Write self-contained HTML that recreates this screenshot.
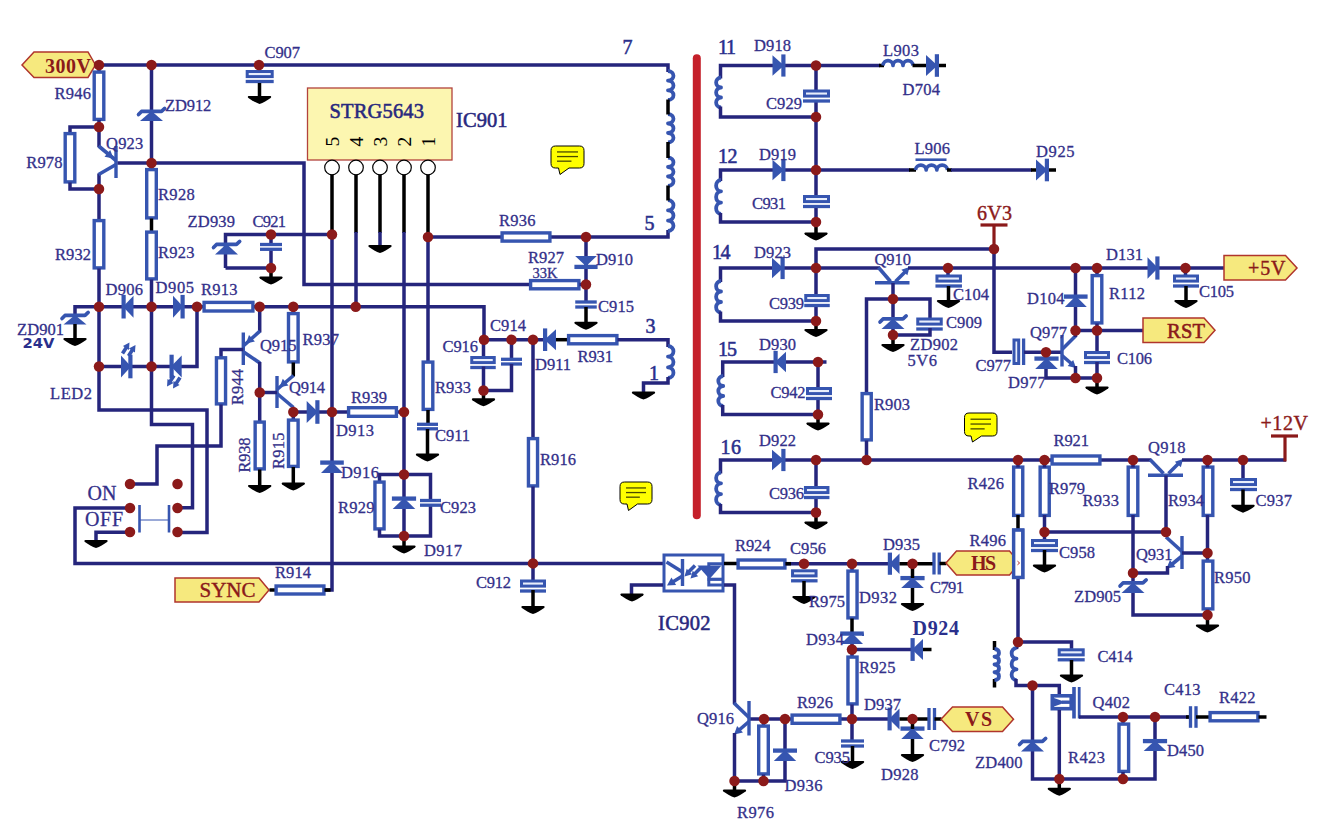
<!DOCTYPE html>
<html lang="en">
<head>
<meta charset="utf-8">
<title>Power supply schematic STRG5643</title>
<style>
html,body{margin:0;padding:0;background:#fff;}
body{width:1318px;height:827px;overflow:hidden;}
svg{display:block;}
text{white-space:pre;}
</style>
</head>
<body>
<svg width="1318" height="827" viewBox="0 0 1318 827">
<polygon points="22,65 34,52 88,52 95.5,65 88,77.5 34,77.5" fill="#f6e97e" stroke="#b0352c" stroke-width="1.5"/>
<path d="M99 65 L668 65 L668 72" stroke="#25257c" stroke-width="3.5" fill="none" stroke-linecap="butt" stroke-linejoin="miter"/>
<path d="M99 65 L99 72" stroke="#25257c" stroke-width="3.5" fill="none" stroke-linecap="butt" stroke-linejoin="miter"/>
<rect x="94.2" y="72.1" width="9.6" height="47.3" fill="#fff" stroke="#3655b0" stroke-width="3.4"/>
<path d="M99 120 L99 147" stroke="#25257c" stroke-width="3.5" fill="none" stroke-linecap="butt" stroke-linejoin="miter"/>
<path d="M99 173.5 L99 220" stroke="#25257c" stroke-width="3.5" fill="none" stroke-linecap="butt" stroke-linejoin="miter"/>
<rect x="94.2" y="220.6" width="9.6" height="47.3" fill="#fff" stroke="#3655b0" stroke-width="3.4"/>
<path d="M99 268.5 L99 410 L207 410 L207 532.5 L177.5 532.5" stroke="#25257c" stroke-width="3.5" fill="none" stroke-linecap="butt" stroke-linejoin="miter"/>
<path d="M99 127 L70 127 L70 133" stroke="#25257c" stroke-width="3.5" fill="none" stroke-linecap="butt" stroke-linejoin="miter"/>
<rect x="65.2" y="133.6" width="9.6" height="48.3" fill="#fff" stroke="#3655b0" stroke-width="3.4"/>
<path d="M70 182.5 L70 189 L99 189" stroke="#25257c" stroke-width="3.5" fill="none" stroke-linecap="butt" stroke-linejoin="miter"/>
<path d="M116 146 L116 178" stroke="#3655b0" stroke-width="3.4" fill="none" stroke-linecap="butt" stroke-linejoin="miter"/>
<path d="M98.6 146 L116 160.5" stroke="#3655b0" stroke-width="3.6" fill="none" stroke-linecap="butt" stroke-linejoin="miter"/>
<path d="M116 164.5 L98.6 174.5" stroke="#3655b0" stroke-width="3.6" fill="none" stroke-linecap="butt" stroke-linejoin="miter"/>
<polygon points="113.5,158.5 104.54,156.73 110.2,149.99" fill="#3655b0" stroke="none" stroke-width="0"/>
<path d="M151.5 65 L151.5 169" stroke="#25257c" stroke-width="3.5" fill="none" stroke-linecap="butt" stroke-linejoin="miter"/>
<polygon points="140,121 163,121 151.5,111" fill="#3655b0" stroke="none" stroke-width="0"/>
<path d="M138.5 114.6 l3 -3.2 L161.5 111.4 l3.2 -3" stroke="#3655b0" stroke-width="3.6" fill="none" stroke-linejoin="round" stroke-linecap="round"/>
<rect x="146.7" y="169.6" width="9.6" height="48.3" fill="#fff" stroke="#3655b0" stroke-width="3.4"/>
<path d="M151.5 218.5 L151.5 231.5" stroke="#000000" stroke-width="3.5" fill="none" stroke-linecap="butt" stroke-linejoin="miter"/>
<rect x="146.7" y="232.1" width="9.6" height="46.8" fill="#fff" stroke="#3655b0" stroke-width="3.4"/>
<path d="M151.5 279.5 L151.5 424.5 L192.5 424.5 L192.5 507.8 L177.5 507.8" stroke="#25257c" stroke-width="3.5" fill="none" stroke-linecap="butt" stroke-linejoin="miter"/>
<path d="M117.5 163 L304 163 L304 284.5 L530 284.5" stroke="#25257c" stroke-width="3.5" fill="none" stroke-linecap="butt" stroke-linejoin="miter"/>
<rect x="256.2" y="70.5" width="7" height="12" fill="#fff"/>
<rect x="247.2" y="71.5" width="25" height="5.1" fill="#e8eefc" stroke="#3655b0" stroke-width="3"/>
<path d="M245.7 81.5 L273.7 81.5" stroke="#3655b0" stroke-width="3.3" fill="none" stroke-linecap="butt" stroke-linejoin="miter"/>
<path d="M259.5 83 L259.5 97" stroke="#000000" stroke-width="3.5" fill="none" stroke-linecap="butt" stroke-linejoin="miter"/>
<path d="M249 96 h21 c1.2 0 1.6 1.2 0.6 2 c-3.4 2.6 -7.4 4.8 -11.1 6 c-3.7 -1.2 -7.7 -3.4 -11.1 -6 c-1 -0.8 -0.6 -2 0.6 -2z" fill="#000"/>
<path d="M99 306.7 L75 306.7 L75 316" stroke="#25257c" stroke-width="3.5" fill="none" stroke-linecap="butt" stroke-linejoin="miter"/>
<polygon points="63.5,324.5 86.5,324.5 75,315" fill="#3655b0" stroke="none" stroke-width="0"/>
<path d="M62 318.6 l3 -3.2 L85 315.4 l3.2 -3" stroke="#3655b0" stroke-width="3.6" fill="none" stroke-linejoin="round" stroke-linecap="round"/>
<path d="M75 324 L75 339" stroke="#000000" stroke-width="3.5" fill="none" stroke-linecap="butt" stroke-linejoin="miter"/>
<path d="M64.5 338 h21 c1.2 0 1.6 1.2 0.6 2 c-3.4 2.6 -7.4 4.8 -11.1 6 c-3.7 -1.2 -7.7 -3.4 -11.1 -6 c-1 -0.8 -0.6 -2 0.6 -2z" fill="#000"/>
<path d="M99 306.7 L484 306.7 L484 339.5" stroke="#25257c" stroke-width="3.5" fill="none" stroke-linecap="butt" stroke-linejoin="miter"/>
<polygon points="133.5,295.7 133.5,317.7 123,306.7" fill="#3655b0" stroke="none" stroke-width="0"/>
<path d="M123.6 294.9 L123.6 318.5" stroke="#3655b0" stroke-width="4.2" fill="none" stroke-linecap="butt" stroke-linejoin="miter"/>
<polygon points="173,295.7 173,317.7 183.2,306.7" fill="#3655b0" stroke="none" stroke-width="0"/>
<path d="M182.6 294.9 L182.6 318.5" stroke="#3655b0" stroke-width="4.2" fill="none" stroke-linecap="butt" stroke-linejoin="miter"/>
<rect x="204.1" y="302.4" width="48.8" height="8.6" fill="#fff" stroke="#3655b0" stroke-width="3.4"/>
<path d="M197 306.7 L197 366.5 L99 366.5" stroke="#25257c" stroke-width="3.5" fill="none" stroke-linecap="butt" stroke-linejoin="miter"/>
<polygon points="121,355.5 121,377.5 131,366.5" fill="#3655b0" stroke="none" stroke-width="0"/>
<path d="M130.4 354.7 L130.4 378.3" stroke="#3655b0" stroke-width="4.2" fill="none" stroke-linecap="butt" stroke-linejoin="miter"/>
<polygon points="181.7,355.5 181.7,377.5 171,366.5" fill="#3655b0" stroke="none" stroke-width="0"/>
<path d="M171.6 354.7 L171.6 378.3" stroke="#3655b0" stroke-width="4.2" fill="none" stroke-linecap="butt" stroke-linejoin="miter"/>
<path d="M122.5 353.5 L127 346.5" stroke="#3655b0" stroke-width="3.6" fill="none" stroke-linecap="butt" stroke-linejoin="miter"/>
<path d="M128.5 356 L133 349" stroke="#3655b0" stroke-width="3.6" fill="none" stroke-linecap="butt" stroke-linejoin="miter"/>
<polygon points="129.5,342.5 128.96,349.9 122.96,346" fill="#3655b0" stroke="none" stroke-width="0"/>
<polygon points="135.5,345 134.96,352.4 128.96,348.5" fill="#3655b0" stroke="none" stroke-width="0"/>
<path d="M180 377.5 L175.5 384.5" stroke="#3655b0" stroke-width="3.6" fill="none" stroke-linecap="butt" stroke-linejoin="miter"/>
<path d="M174 375.5 L169.5 382.5" stroke="#3655b0" stroke-width="3.6" fill="none" stroke-linecap="butt" stroke-linejoin="miter"/>
<polygon points="173,388.5 173.54,381.1 179.54,385" fill="#3655b0" stroke="none" stroke-width="0"/>
<polygon points="167,386.5 167.54,379.1 173.54,383" fill="#3655b0" stroke="none" stroke-width="0"/>
<path d="M225.5 268 L225.5 234.5 L332 234.5" stroke="#25257c" stroke-width="3.5" fill="none" stroke-linecap="butt" stroke-linejoin="miter"/>
<path d="M225.5 268 L271 268" stroke="#25257c" stroke-width="3.5" fill="none" stroke-linecap="butt" stroke-linejoin="miter"/>
<polygon points="215,254.5 238,254.5 226.5,244" fill="#3655b0" stroke="none" stroke-width="0"/>
<path d="M213.5 247.6 l3 -3.2 L236.5 244.4 l3.2 -3" stroke="#3655b0" stroke-width="3.6" fill="none" stroke-linejoin="round" stroke-linecap="round"/>
<path d="M271 234.5 L271 245" stroke="#25257c" stroke-width="3.5" fill="none" stroke-linecap="butt" stroke-linejoin="miter"/>
<path d="M271 249 L271 268" stroke="#25257c" stroke-width="3.5" fill="none" stroke-linecap="butt" stroke-linejoin="miter"/>
<rect x="267.5" y="244.5" width="7" height="4.8" fill="#fff"/>
<path d="M260 244.5 L282 244.5" stroke="#3655b0" stroke-width="3.3" fill="none" stroke-linecap="butt" stroke-linejoin="miter"/>
<path d="M260 249.3 L282 249.3" stroke="#3655b0" stroke-width="3.3" fill="none" stroke-linecap="butt" stroke-linejoin="miter"/>
<path d="M271 268 L271 277.5" stroke="#000000" stroke-width="3.5" fill="none" stroke-linecap="butt" stroke-linejoin="miter"/>
<path d="M260.5 276.5 h21 c1.2 0 1.6 1.2 0.6 2 c-3.4 2.6 -7.4 4.8 -11.1 6 c-3.7 -1.2 -7.7 -3.4 -11.1 -6 c-1 -0.8 -0.6 -2 0.6 -2z" fill="#000"/>
<path d="M259.7 306.7 L259.7 332.5" stroke="#25257c" stroke-width="3.5" fill="none" stroke-linecap="butt" stroke-linejoin="miter"/>
<path d="M243.3 332.5 L243.3 365" stroke="#3655b0" stroke-width="3.4" fill="none" stroke-linecap="butt" stroke-linejoin="miter"/>
<path d="M259.9 331.2 L243.3 346" stroke="#3655b0" stroke-width="3.6" fill="none" stroke-linecap="butt" stroke-linejoin="miter"/>
<path d="M243.3 351.7 L259.9 363" stroke="#3655b0" stroke-width="3.6" fill="none" stroke-linecap="butt" stroke-linejoin="miter"/>
<polygon points="246,343.6 249,334.98 254.89,341.52" fill="#3655b0" stroke="none" stroke-width="0"/>
<path d="M259.7 362 L259.7 421.5" stroke="#25257c" stroke-width="3.5" fill="none" stroke-linecap="butt" stroke-linejoin="miter"/>
<path d="M243.3 349.5 L221 349.5 L221 357" stroke="#25257c" stroke-width="3.5" fill="none" stroke-linecap="butt" stroke-linejoin="miter"/>
<rect x="216.45" y="357.8" width="9.1" height="46.1" fill="#fff" stroke="#3655b0" stroke-width="3.4"/>
<path d="M221 404.5 L221 446 L157 446 L157 484 L130 484" stroke="#25257c" stroke-width="3.5" fill="none" stroke-linecap="butt" stroke-linejoin="miter"/>
<path d="M293.3 306.7 L293.3 313" stroke="#25257c" stroke-width="3.5" fill="none" stroke-linecap="butt" stroke-linejoin="miter"/>
<rect x="288.5" y="313.6" width="9.6" height="48.3" fill="#fff" stroke="#3655b0" stroke-width="3.4"/>
<path d="M293.3 362.5 L293.3 376.5" stroke="#000000" stroke-width="3.5" fill="none" stroke-linecap="butt" stroke-linejoin="miter"/>
<path d="M277 376 L277 408" stroke="#3655b0" stroke-width="3.4" fill="none" stroke-linecap="butt" stroke-linejoin="miter"/>
<path d="M293.5 375.5 L277 389.5" stroke="#3655b0" stroke-width="3.6" fill="none" stroke-linecap="butt" stroke-linejoin="miter"/>
<path d="M277 393.5 L293.5 407.5" stroke="#3655b0" stroke-width="3.6" fill="none" stroke-linecap="butt" stroke-linejoin="miter"/>
<polygon points="279.5,387.3 282.8,378.79 288.46,385.53" fill="#3655b0" stroke="none" stroke-width="0"/>
<path d="M259.7 392.5 L277 392.5" stroke="#25257c" stroke-width="3.5" fill="none" stroke-linecap="butt" stroke-linejoin="miter"/>
<rect x="255.15" y="422.1" width="9.1" height="46.8" fill="#fff" stroke="#3655b0" stroke-width="3.4"/>
<path d="M259.7 469.5 L259.7 486" stroke="#000000" stroke-width="3.5" fill="none" stroke-linecap="butt" stroke-linejoin="miter"/>
<path d="M249.2 485 h21 c1.2 0 1.6 1.2 0.6 2 c-3.4 2.6 -7.4 4.8 -11.1 6 c-3.7 -1.2 -7.7 -3.4 -11.1 -6 c-1 -0.8 -0.6 -2 0.6 -2z" fill="#000"/>
<path d="M293.3 408 L293.3 419.5" stroke="#25257c" stroke-width="3.5" fill="none" stroke-linecap="butt" stroke-linejoin="miter"/>
<rect x="288.5" y="420.1" width="9.6" height="46.3" fill="#fff" stroke="#3655b0" stroke-width="3.4"/>
<path d="M293.3 467 L293.3 483.5" stroke="#000000" stroke-width="3.5" fill="none" stroke-linecap="butt" stroke-linejoin="miter"/>
<path d="M282.8 482.5 h21 c1.2 0 1.6 1.2 0.6 2 c-3.4 2.6 -7.4 4.8 -11.1 6 c-3.7 -1.2 -7.7 -3.4 -11.1 -6 c-1 -0.8 -0.6 -2 0.6 -2z" fill="#000"/>
<path d="M293.3 412 L404 412" stroke="#25257c" stroke-width="3.5" fill="none" stroke-linecap="butt" stroke-linejoin="miter"/>
<polygon points="306.7,401 306.7,423 318,412" fill="#3655b0" stroke="none" stroke-width="0"/>
<path d="M317.4 400.2 L317.4 423.8" stroke="#3655b0" stroke-width="4.2" fill="none" stroke-linecap="butt" stroke-linejoin="miter"/>
<rect x="348.6" y="407.7" width="47.8" height="8.6" fill="#fff" stroke="#3655b0" stroke-width="3.4"/>
<path d="M332 174 L332 233" stroke="#000000" stroke-width="3.5" fill="none" stroke-linecap="butt" stroke-linejoin="miter"/>
<path d="M356 174 L356 233" stroke="#000000" stroke-width="3.5" fill="none" stroke-linecap="butt" stroke-linejoin="miter"/>
<path d="M380 174 L380 233" stroke="#000000" stroke-width="3.5" fill="none" stroke-linecap="butt" stroke-linejoin="miter"/>
<path d="M404 174 L404 233" stroke="#000000" stroke-width="3.5" fill="none" stroke-linecap="butt" stroke-linejoin="miter"/>
<path d="M428 174 L428 233" stroke="#000000" stroke-width="3.5" fill="none" stroke-linecap="butt" stroke-linejoin="miter"/>
<path d="M332 232 L332 590 L325 590" stroke="#25257c" stroke-width="3.5" fill="none" stroke-linecap="butt" stroke-linejoin="miter"/>
<path d="M356 232 L356 306.7" stroke="#25257c" stroke-width="3.5" fill="none" stroke-linecap="butt" stroke-linejoin="miter"/>
<path d="M380 232 L380 247" stroke="#25257c" stroke-width="3.5" fill="none" stroke-linecap="butt" stroke-linejoin="miter"/>
<path d="M369.5 245 h21 c1.2 0 1.6 1.2 0.6 2 c-3.4 2.6 -7.4 4.8 -11.1 6 c-3.7 -1.2 -7.7 -3.4 -11.1 -6 c-1 -0.8 -0.6 -2 0.6 -2z" fill="#000"/>
<path d="M404 232 L404 536" stroke="#25257c" stroke-width="3.5" fill="none" stroke-linecap="butt" stroke-linejoin="miter"/>
<path d="M428 232 L428 361.5" stroke="#25257c" stroke-width="3.5" fill="none" stroke-linecap="butt" stroke-linejoin="miter"/>
<polygon points="321,473 343,473 332,462" fill="#3655b0" stroke="none" stroke-width="0"/>
<path d="M320.2 462.6 L343.8 462.6" stroke="#3655b0" stroke-width="4.3" fill="none" stroke-linecap="butt" stroke-linejoin="miter"/>
<path d="M379.5 481.5 L379.5 474.5 L430.5 474.5 L430.5 501" stroke="#25257c" stroke-width="3.5" fill="none" stroke-linecap="butt" stroke-linejoin="miter"/>
<rect x="374.95" y="482.1" width="9.1" height="46.8" fill="#fff" stroke="#3655b0" stroke-width="3.4"/>
<path d="M379.5 529.5 L379.5 536 L430.5 536 L430.5 505" stroke="#25257c" stroke-width="3.5" fill="none" stroke-linecap="butt" stroke-linejoin="miter"/>
<polygon points="392.7,509 415.3,509 404,498" fill="#3655b0" stroke="none" stroke-width="0"/>
<path d="M391.9 498.6 L416.1 498.6" stroke="#3655b0" stroke-width="4.3" fill="none" stroke-linecap="butt" stroke-linejoin="miter"/>
<rect x="427" y="500.5" width="7" height="4.7" fill="#fff"/>
<path d="M420 500.5 L441 500.5" stroke="#3655b0" stroke-width="3.3" fill="none" stroke-linecap="butt" stroke-linejoin="miter"/>
<path d="M420 505.2 L441 505.2" stroke="#3655b0" stroke-width="3.3" fill="none" stroke-linecap="butt" stroke-linejoin="miter"/>
<path d="M404 536 L404 546.5" stroke="#000000" stroke-width="3.5" fill="none" stroke-linecap="butt" stroke-linejoin="miter"/>
<path d="M393.5 545.5 h21 c1.2 0 1.6 1.2 0.6 2 c-3.4 2.6 -7.4 4.8 -11.1 6 c-3.7 -1.2 -7.7 -3.4 -11.1 -6 c-1 -0.8 -0.6 -2 0.6 -2z" fill="#000"/>
<rect x="423.2" y="362.1" width="9.6" height="47.3" fill="#fff" stroke="#3655b0" stroke-width="3.4"/>
<path d="M428 410 L428 424.5" stroke="#000000" stroke-width="3.5" fill="none" stroke-linecap="butt" stroke-linejoin="miter"/>
<rect x="424" y="424.3" width="7" height="4.5" fill="#fff"/>
<path d="M417 424.3 L438 424.3" stroke="#3655b0" stroke-width="3.3" fill="none" stroke-linecap="butt" stroke-linejoin="miter"/>
<path d="M417 428.8 L438 428.8" stroke="#3655b0" stroke-width="3.3" fill="none" stroke-linecap="butt" stroke-linejoin="miter"/>
<path d="M427.5 429 L427.5 454.5" stroke="#000000" stroke-width="3.5" fill="none" stroke-linecap="butt" stroke-linejoin="miter"/>
<path d="M417 453.5 h21 c1.2 0 1.6 1.2 0.6 2 c-3.4 2.6 -7.4 4.8 -11.1 6 c-3.7 -1.2 -7.7 -3.4 -11.1 -6 c-1 -0.8 -0.6 -2 0.6 -2z" fill="#000"/>
<path d="M428 237 L668 237 L668 230" stroke="#25257c" stroke-width="3.5" fill="none" stroke-linecap="butt" stroke-linejoin="miter"/>
<rect x="502.1" y="232.9" width="47.8" height="8.2" fill="#fff" stroke="#3655b0" stroke-width="3.4"/>
<path d="M586 237 L586 302" stroke="#25257c" stroke-width="3.5" fill="none" stroke-linecap="butt" stroke-linejoin="miter"/>
<polygon points="575.2,256 596.8,256 586,266.3" fill="#3655b0" stroke="none" stroke-width="0"/>
<path d="M574.4 266.9 L597.6 266.9" stroke="#3655b0" stroke-width="4.3" fill="none" stroke-linecap="butt" stroke-linejoin="miter"/>
<rect x="582.5" y="302" width="7" height="5" fill="#fff"/>
<path d="M575.25 302 L596.75 302" stroke="#3655b0" stroke-width="3.3" fill="none" stroke-linecap="butt" stroke-linejoin="miter"/>
<path d="M575.25 307 L596.75 307" stroke="#3655b0" stroke-width="3.3" fill="none" stroke-linecap="butt" stroke-linejoin="miter"/>
<path d="M586 307 L586 322.7" stroke="#000000" stroke-width="3.5" fill="none" stroke-linecap="butt" stroke-linejoin="miter"/>
<path d="M575.5 321.7 h21 c1.2 0 1.6 1.2 0.6 2 c-3.4 2.6 -7.4 4.8 -11.1 6 c-3.7 -1.2 -7.7 -3.4 -11.1 -6 c-1 -0.8 -0.6 -2 0.6 -2z" fill="#000"/>
<rect x="530.6" y="280.6" width="48.3" height="8.2" fill="#fff" stroke="#3655b0" stroke-width="3.4"/>
<path d="M579.5 284.5 L586 284.5" stroke="#25257c" stroke-width="3.5" fill="none" stroke-linecap="butt" stroke-linejoin="miter"/>
<path d="M484 339.7 L545 339.7" stroke="#25257c" stroke-width="3.5" fill="none" stroke-linecap="butt" stroke-linejoin="miter"/>
<polygon points="556,329.2 556,350.2 544.5,339.7" fill="#3655b0" stroke="none" stroke-width="0"/>
<path d="M545.1 328.4 L545.1 351" stroke="#3655b0" stroke-width="4.2" fill="none" stroke-linecap="butt" stroke-linejoin="miter"/>
<path d="M556 339.7 L568 339.7" stroke="#000000" stroke-width="3.5" fill="none" stroke-linecap="butt" stroke-linejoin="miter"/>
<rect x="568.6" y="335.6" width="48.3" height="8.2" fill="#fff" stroke="#3655b0" stroke-width="3.4"/>
<path d="M617.5 339.7 L668 339.7 L668 347" stroke="#25257c" stroke-width="3.5" fill="none" stroke-linecap="butt" stroke-linejoin="miter"/>
<path d="M483.5 339.7 L483.5 357" stroke="#25257c" stroke-width="3.5" fill="none" stroke-linecap="butt" stroke-linejoin="miter"/>
<rect x="479.5" y="356.5" width="7" height="12" fill="#fff"/>
<rect x="471.75" y="357.5" width="22.5" height="5.1" fill="#e8eefc" stroke="#3655b0" stroke-width="3"/>
<path d="M470.25 367.5 L495.75 367.5" stroke="#3655b0" stroke-width="3.3" fill="none" stroke-linecap="butt" stroke-linejoin="miter"/>
<path d="M483.5 366.5 L483.5 390.5" stroke="#25257c" stroke-width="3.5" fill="none" stroke-linecap="butt" stroke-linejoin="miter"/>
<path d="M483.5 390.5 L483.5 399.3" stroke="#000000" stroke-width="3.5" fill="none" stroke-linecap="butt" stroke-linejoin="miter"/>
<path d="M473 398.3 h21 c1.2 0 1.6 1.2 0.6 2 c-3.4 2.6 -7.4 4.8 -11.1 6 c-3.7 -1.2 -7.7 -3.4 -11.1 -6 c-1 -0.8 -0.6 -2 0.6 -2z" fill="#000"/>
<path d="M511.5 339.7 L511.5 359.5" stroke="#25257c" stroke-width="3.5" fill="none" stroke-linecap="butt" stroke-linejoin="miter"/>
<rect x="508" y="359.3" width="7" height="4.7" fill="#fff"/>
<path d="M501 359.3 L522 359.3" stroke="#3655b0" stroke-width="3.3" fill="none" stroke-linecap="butt" stroke-linejoin="miter"/>
<path d="M501 364 L522 364" stroke="#3655b0" stroke-width="3.3" fill="none" stroke-linecap="butt" stroke-linejoin="miter"/>
<path d="M511.5 364 L511.5 390.5 L483.5 390.5" stroke="#25257c" stroke-width="3.5" fill="none" stroke-linecap="butt" stroke-linejoin="miter"/>
<path d="M533 339.7 L533 438" stroke="#25257c" stroke-width="3.5" fill="none" stroke-linecap="butt" stroke-linejoin="miter"/>
<rect x="528.45" y="438.6" width="9.1" height="47.3" fill="#fff" stroke="#3655b0" stroke-width="3.4"/>
<path d="M533 486.5 L533 580" stroke="#25257c" stroke-width="3.5" fill="none" stroke-linecap="butt" stroke-linejoin="miter"/>
<rect x="529.5" y="580" width="7" height="12" fill="#fff"/>
<rect x="521.5" y="581" width="23" height="5.1" fill="#e8eefc" stroke="#3655b0" stroke-width="3"/>
<path d="M520 591 L546 591" stroke="#3655b0" stroke-width="3.3" fill="none" stroke-linecap="butt" stroke-linejoin="miter"/>
<path d="M533 590 L533 607" stroke="#000000" stroke-width="3.5" fill="none" stroke-linecap="butt" stroke-linejoin="miter"/>
<path d="M522.5 606 h21 c1.2 0 1.6 1.2 0.6 2 c-3.4 2.6 -7.4 4.8 -11.1 6 c-3.7 -1.2 -7.7 -3.4 -11.1 -6 c-1 -0.8 -0.6 -2 0.6 -2z" fill="#000"/>
<path d="M130 508 L75 508 L75 563.4 L663 563.4" stroke="#25257c" stroke-width="3.5" fill="none" stroke-linecap="butt" stroke-linejoin="miter"/>
<path d="M139.5 505 L139.5 532.5" stroke="#3655b0" stroke-width="2.6" fill="none" stroke-linecap="butt" stroke-linejoin="miter"/>
<path d="M169 505 L169 532.5" stroke="#3655b0" stroke-width="2.6" fill="none" stroke-linecap="butt" stroke-linejoin="miter"/>
<path d="M139.5 520 L169 520" stroke="#3655b0" stroke-width="1" fill="none" stroke-linecap="butt" stroke-linejoin="miter"/>
<path d="M130 532.3 L96 532.3 L96 543" stroke="#25257c" stroke-width="3.5" fill="none" stroke-linecap="butt" stroke-linejoin="miter"/>
<path d="M85.5 540 h21 c1.2 0 1.6 1.2 0.6 2 c-3.4 2.6 -7.4 4.8 -11.1 6 c-3.7 -1.2 -7.7 -3.4 -11.1 -6 c-1 -0.8 -0.6 -2 0.6 -2z" fill="#000"/>
<polygon points="175,578 259,578 269,590 259,602 175,602" fill="#f6e97e" stroke="#b0352c" stroke-width="1.5"/>
<path d="M269.5 590 L276 590" stroke="#000000" stroke-width="3.5" fill="none" stroke-linecap="butt" stroke-linejoin="miter"/>
<rect x="276.1" y="586" width="47.8" height="8" fill="#fff" stroke="#3655b0" stroke-width="3.4"/>
<path d="M324.5 590 L330.6 590" stroke="#000000" stroke-width="3.5" fill="none" stroke-linecap="butt" stroke-linejoin="miter"/>
<rect x="307.5" y="88" width="144.5" height="72" fill="#fcf6b0" stroke="#b2423c" stroke-width="1.3"/>
<circle cx="332" cy="167.5" r="7.3" fill="#fff" stroke="#000" stroke-width="1.2"/>
<circle cx="356" cy="167.5" r="7.3" fill="#fff" stroke="#000" stroke-width="1.2"/>
<circle cx="380" cy="167.5" r="7.3" fill="#fff" stroke="#000" stroke-width="1.2"/>
<circle cx="404" cy="167.5" r="7.3" fill="#fff" stroke="#000" stroke-width="1.2"/>
<circle cx="428" cy="167.5" r="7.3" fill="#fff" stroke="#000" stroke-width="1.2"/>
<path d="M668 71 C675.28 71.48 675.28 80.18 668 80.67 C675.28 81.15 675.28 89.85 668 90.33 C675.28 90.82 675.28 99.52 668 100" stroke="#3655b0" stroke-width="3.8" fill="none" stroke-linejoin="round"/>
<path d="M668 114 C675.28 114.47 675.28 123.03 668 123.5 C675.28 123.97 675.28 132.53 668 133 C675.28 133.47 675.28 142.03 668 142.5" stroke="#3655b0" stroke-width="3.8" fill="none" stroke-linejoin="round"/>
<path d="M668 157.5 C675.28 157.97 675.28 166.53 668 167 C675.28 167.47 675.28 176.03 668 176.5 C675.28 176.97 675.28 185.53 668 186" stroke="#3655b0" stroke-width="3.8" fill="none" stroke-linejoin="round"/>
<path d="M668 200 C675.28 200.52 675.28 209.82 668 210.33 C675.28 210.85 675.28 220.15 668 220.67 C675.28 221.18 675.28 230.48 668 231" stroke="#3655b0" stroke-width="3.8" fill="none" stroke-linejoin="round"/>
<path d="M668 99.5 L668 114.5" stroke="#000000" stroke-width="3.5" fill="none" stroke-linecap="butt" stroke-linejoin="miter"/>
<path d="M668 142 L668 158" stroke="#000000" stroke-width="3.5" fill="none" stroke-linecap="butt" stroke-linejoin="miter"/>
<path d="M668 185.5 L668 200.5" stroke="#000000" stroke-width="3.5" fill="none" stroke-linecap="butt" stroke-linejoin="miter"/>
<path d="M668 346 C675.28 346.53 675.28 356.13 668 356.67 C675.28 357.2 675.28 366.8 668 367.33 C675.28 367.87 675.28 377.47 668 378" stroke="#3655b0" stroke-width="3.8" fill="none" stroke-linejoin="round"/>
<path d="M668 377 L668 383 L643.5 383 L643.5 393" stroke="#25257c" stroke-width="3.5" fill="none" stroke-linecap="butt" stroke-linejoin="miter"/>
<path d="M633 391.5 h21 c1.2 0 1.6 1.2 0.6 2 c-3.4 2.6 -7.4 4.8 -11.1 6 c-3.7 -1.2 -7.7 -3.4 -11.1 -6 c-1 -0.8 -0.6 -2 0.6 -2z" fill="#000"/>
<path d="M696.8 58.2 V515.3" stroke="#c5202a" stroke-width="8" stroke-linecap="round"/>
<path d="M720.5 78.5 L720.5 65.5 L816 65.5" stroke="#25257c" stroke-width="3.5" fill="none" stroke-linecap="butt" stroke-linejoin="miter"/>
<path d="M721 77.5 C714.5 78 714.5 87 721 87.5 C714.5 88 714.5 97 721 97.5 C714.5 98 714.5 107 721 107.5" stroke="#3655b0" stroke-width="3.8" fill="none" stroke-linejoin="round"/>
<path d="M720.5 106.5 L720.5 117 L816 117" stroke="#25257c" stroke-width="3.5" fill="none" stroke-linecap="butt" stroke-linejoin="miter"/>
<path d="M720.5 181 L720.5 170 L816 170" stroke="#25257c" stroke-width="3.5" fill="none" stroke-linecap="butt" stroke-linejoin="miter"/>
<path d="M721 180 C714.5 180.57 714.5 190.77 721 191.33 C714.5 191.9 714.5 202.1 721 202.67 C714.5 203.23 714.5 213.43 721 214" stroke="#3655b0" stroke-width="3.8" fill="none" stroke-linejoin="round"/>
<path d="M720.5 213 L720.5 222 L816 222" stroke="#25257c" stroke-width="3.5" fill="none" stroke-linecap="butt" stroke-linejoin="miter"/>
<path d="M720.5 282 L720.5 268 L816 268" stroke="#25257c" stroke-width="3.5" fill="none" stroke-linecap="butt" stroke-linejoin="miter"/>
<path d="M721 281 C714.5 281.52 714.5 290.98 721 291.5 C714.5 292.02 714.5 301.48 721 302 C714.5 302.52 714.5 311.98 721 312.5" stroke="#3655b0" stroke-width="3.8" fill="none" stroke-linejoin="round"/>
<path d="M720.5 311.5 L720.5 321 L816 321" stroke="#25257c" stroke-width="3.5" fill="none" stroke-linecap="butt" stroke-linejoin="miter"/>
<path d="M722.7 377 L722.7 362 L818 362" stroke="#25257c" stroke-width="3.5" fill="none" stroke-linecap="butt" stroke-linejoin="miter"/>
<path d="M723.2 376 C716.7 376.5 716.7 385.5 723.2 386 C716.7 386.5 716.7 395.5 723.2 396 C716.7 396.5 716.7 405.5 723.2 406" stroke="#3655b0" stroke-width="3.8" fill="none" stroke-linejoin="round"/>
<path d="M722.7 405 L722.7 414.5 L818 414.5" stroke="#25257c" stroke-width="3.5" fill="none" stroke-linecap="butt" stroke-linejoin="miter"/>
<path d="M720.5 473.5 L720.5 460 L816 460" stroke="#25257c" stroke-width="3.5" fill="none" stroke-linecap="butt" stroke-linejoin="miter"/>
<path d="M721 472.5 C714.5 473.04 714.5 482.79 721 483.33 C714.5 483.88 714.5 493.62 721 494.17 C714.5 494.71 714.5 504.46 721 505" stroke="#3655b0" stroke-width="3.8" fill="none" stroke-linejoin="round"/>
<path d="M720.5 504 L720.5 512.5 L816 512.5" stroke="#25257c" stroke-width="3.5" fill="none" stroke-linecap="butt" stroke-linejoin="miter"/>
<path d="M816 65.5 L880 65.5" stroke="#25257c" stroke-width="3.5" fill="none" stroke-linecap="butt" stroke-linejoin="miter"/>
<polygon points="772.5,55.2 772.5,75.8 784,65.5" fill="#3655b0" stroke="none" stroke-width="0"/>
<path d="M783.4 54.4 L783.4 76.6" stroke="#3655b0" stroke-width="4.2" fill="none" stroke-linecap="butt" stroke-linejoin="miter"/>
<path d="M879 65.5 L884 65.5" stroke="#000000" stroke-width="3.5" fill="none" stroke-linecap="butt" stroke-linejoin="miter"/>
<path d="M883 65.5 C883.5 59 892.5 59 893 65.5 C893.5 59 902.5 59 903 65.5 C903.5 59 912.5 59 913 65.5" stroke="#3655b0" stroke-width="3.6" fill="none" stroke-linejoin="round"/>
<path d="M912.5 65.5 L926.5 65.5" stroke="#000000" stroke-width="3.5" fill="none" stroke-linecap="butt" stroke-linejoin="miter"/>
<polygon points="926,55 926,76 937.5,65.5" fill="#3655b0" stroke="none" stroke-width="0"/>
<path d="M936.9 54.2 L936.9 76.8" stroke="#3655b0" stroke-width="4.2" fill="none" stroke-linecap="butt" stroke-linejoin="miter"/>
<path d="M939 65.5 L946 65.5" stroke="#000000" stroke-width="3.5" fill="none" stroke-linecap="butt" stroke-linejoin="miter"/>
<path d="M816 65.5 L816 222" stroke="#25257c" stroke-width="3.5" fill="none" stroke-linecap="butt" stroke-linejoin="miter"/>
<rect x="813" y="90" width="7" height="12" fill="#fff"/>
<rect x="804.5" y="91" width="24" height="5.1" fill="#e8eefc" stroke="#3655b0" stroke-width="3"/>
<path d="M803 101 L830 101" stroke="#3655b0" stroke-width="3.3" fill="none" stroke-linecap="butt" stroke-linejoin="miter"/>
<rect x="813" y="195.5" width="7" height="12" fill="#fff"/>
<rect x="804.5" y="196.5" width="24" height="5.1" fill="#e8eefc" stroke="#3655b0" stroke-width="3"/>
<path d="M803 206.5 L830 206.5" stroke="#3655b0" stroke-width="3.3" fill="none" stroke-linecap="butt" stroke-linejoin="miter"/>
<path d="M816 222 L816 233.5" stroke="#000000" stroke-width="3.5" fill="none" stroke-linecap="butt" stroke-linejoin="miter"/>
<path d="M805.5 232.5 h21 c1.2 0 1.6 1.2 0.6 2 c-3.4 2.6 -7.4 4.8 -11.1 6 c-3.7 -1.2 -7.7 -3.4 -11.1 -6 c-1 -0.8 -0.6 -2 0.6 -2z" fill="#000"/>
<path d="M816 170 L910 170" stroke="#25257c" stroke-width="3.5" fill="none" stroke-linecap="butt" stroke-linejoin="miter"/>
<polygon points="772.5,159.7 772.5,180.3 784,170" fill="#3655b0" stroke="none" stroke-width="0"/>
<path d="M783.4 158.9 L783.4 181.1" stroke="#3655b0" stroke-width="4.2" fill="none" stroke-linecap="butt" stroke-linejoin="miter"/>
<path d="M909 170 L916 170" stroke="#000000" stroke-width="3.5" fill="none" stroke-linecap="butt" stroke-linejoin="miter"/>
<path d="M915.5 170 C916.03 163.5 925.63 163.5 926.17 170 C926.7 163.5 936.3 163.5 936.83 170 C937.37 163.5 946.97 163.5 947.5 170" stroke="#3655b0" stroke-width="3.6" fill="none" stroke-linejoin="round"/>
<path d="M915.5 159.7 L946.5 159.7" stroke="#3655b0" stroke-width="2.6" fill="none" stroke-linecap="butt" stroke-linejoin="miter"/>
<path d="M947 170 L952 170" stroke="#000000" stroke-width="3.5" fill="none" stroke-linecap="butt" stroke-linejoin="miter"/>
<path d="M951 170 L1032 170" stroke="#25257c" stroke-width="3.5" fill="none" stroke-linecap="butt" stroke-linejoin="miter"/>
<path d="M1031 170 L1036.5 170" stroke="#000000" stroke-width="3.5" fill="none" stroke-linecap="butt" stroke-linejoin="miter"/>
<polygon points="1036,159.5 1036,180.5 1047.5,170" fill="#3655b0" stroke="none" stroke-width="0"/>
<path d="M1046.9 158.7 L1046.9 181.3" stroke="#3655b0" stroke-width="4.2" fill="none" stroke-linecap="butt" stroke-linejoin="miter"/>
<path d="M1049 170 L1056 170" stroke="#000000" stroke-width="3.5" fill="none" stroke-linecap="butt" stroke-linejoin="miter"/>
<path d="M816 268 L880 268" stroke="#25257c" stroke-width="3.5" fill="none" stroke-linecap="butt" stroke-linejoin="miter"/>
<polygon points="772,257.7 772,278.3 783.2,268" fill="#3655b0" stroke="none" stroke-width="0"/>
<path d="M782.6 256.9 L782.6 279.1" stroke="#3655b0" stroke-width="4.2" fill="none" stroke-linecap="butt" stroke-linejoin="miter"/>
<path d="M816 268 L816 249 L994 249" stroke="#25257c" stroke-width="3.5" fill="none" stroke-linecap="butt" stroke-linejoin="miter"/>
<path d="M816 268 L816 321" stroke="#25257c" stroke-width="3.5" fill="none" stroke-linecap="butt" stroke-linejoin="miter"/>
<rect x="813.5" y="294.5" width="7" height="12" fill="#fff"/>
<rect x="805.75" y="295.5" width="22.5" height="5.1" fill="#e8eefc" stroke="#3655b0" stroke-width="3"/>
<path d="M804.25 305.5 L829.75 305.5" stroke="#3655b0" stroke-width="3.3" fill="none" stroke-linecap="butt" stroke-linejoin="miter"/>
<path d="M816 320.5 L816 330" stroke="#000000" stroke-width="3.5" fill="none" stroke-linecap="butt" stroke-linejoin="miter"/>
<path d="M805.5 329 h21 c1.2 0 1.6 1.2 0.6 2 c-3.4 2.6 -7.4 4.8 -11.1 6 c-3.7 -1.2 -7.7 -3.4 -11.1 -6 c-1 -0.8 -0.6 -2 0.6 -2z" fill="#000"/>
<path d="M818 362 L826.5 362" stroke="#25257c" stroke-width="3.5" fill="none" stroke-linecap="butt" stroke-linejoin="miter"/>
<polygon points="786,351.7 786,372.3 775,362" fill="#3655b0" stroke="none" stroke-width="0"/>
<path d="M775.6 350.9 L775.6 373.1" stroke="#3655b0" stroke-width="4.2" fill="none" stroke-linecap="butt" stroke-linejoin="miter"/>
<path d="M818 362 L818 414.5" stroke="#25257c" stroke-width="3.5" fill="none" stroke-linecap="butt" stroke-linejoin="miter"/>
<rect x="815.5" y="387.5" width="7" height="12" fill="#fff"/>
<rect x="807.5" y="388.5" width="23" height="5.1" fill="#e8eefc" stroke="#3655b0" stroke-width="3"/>
<path d="M806 398.5 L832 398.5" stroke="#3655b0" stroke-width="3.3" fill="none" stroke-linecap="butt" stroke-linejoin="miter"/>
<path d="M818 414 L818 423.5" stroke="#000000" stroke-width="3.5" fill="none" stroke-linecap="butt" stroke-linejoin="miter"/>
<path d="M807.5 422.5 h21 c1.2 0 1.6 1.2 0.6 2 c-3.4 2.6 -7.4 4.8 -11.1 6 c-3.7 -1.2 -7.7 -3.4 -11.1 -6 c-1 -0.8 -0.6 -2 0.6 -2z" fill="#000"/>
<path d="M816 460 L1151 460" stroke="#25257c" stroke-width="3.5" fill="none" stroke-linecap="butt" stroke-linejoin="miter"/>
<polygon points="772,449.7 772,470.3 784,460" fill="#3655b0" stroke="none" stroke-width="0"/>
<path d="M783.4 448.9 L783.4 471.1" stroke="#3655b0" stroke-width="4.2" fill="none" stroke-linecap="butt" stroke-linejoin="miter"/>
<path d="M816 460 L816 512.5" stroke="#25257c" stroke-width="3.5" fill="none" stroke-linecap="butt" stroke-linejoin="miter"/>
<rect x="813.2" y="486.5" width="7" height="12" fill="#fff"/>
<rect x="805.45" y="487.5" width="22.5" height="5.1" fill="#e8eefc" stroke="#3655b0" stroke-width="3"/>
<path d="M803.95 497.5 L829.45 497.5" stroke="#3655b0" stroke-width="3.3" fill="none" stroke-linecap="butt" stroke-linejoin="miter"/>
<path d="M816 512.5 L816 522.5" stroke="#000000" stroke-width="3.5" fill="none" stroke-linecap="butt" stroke-linejoin="miter"/>
<path d="M805.5 521.5 h21 c1.2 0 1.6 1.2 0.6 2 c-3.4 2.6 -7.4 4.8 -11.1 6 c-3.7 -1.2 -7.7 -3.4 -11.1 -6 c-1 -0.8 -0.6 -2 0.6 -2z" fill="#000"/>
<path d="M878.5 267.5 L890.5 281.5" stroke="#3655b0" stroke-width="3.6" fill="none" stroke-linecap="butt" stroke-linejoin="miter"/>
<path d="M895.5 281.5 L907 270" stroke="#3655b0" stroke-width="3.6" fill="none" stroke-linecap="butt" stroke-linejoin="miter"/>
<polygon points="909.5,267 907.4,275.3 901.37,269.67" fill="#3655b0" stroke="none" stroke-width="0"/>
<path d="M875 282.7 L909.5 282.7" stroke="#3655b0" stroke-width="3.4" fill="none" stroke-linecap="butt" stroke-linejoin="miter"/>
<path d="M908 268 L1224.5 268" stroke="#25257c" stroke-width="3.5" fill="none" stroke-linecap="butt" stroke-linejoin="miter"/>
<path d="M893 283 L893 318" stroke="#25257c" stroke-width="3.5" fill="none" stroke-linecap="butt" stroke-linejoin="miter"/>
<polygon points="881.5,329 904.5,329 893,318.5" fill="#3655b0" stroke="none" stroke-width="0"/>
<path d="M880 322.1 l3 -3.2 L903 318.9 l3.2 -3" stroke="#3655b0" stroke-width="3.6" fill="none" stroke-linejoin="round" stroke-linecap="round"/>
<path d="M893 329 L893 335" stroke="#25257c" stroke-width="3.5" fill="none" stroke-linecap="butt" stroke-linejoin="miter"/>
<path d="M893 335 L893 345" stroke="#000000" stroke-width="3.5" fill="none" stroke-linecap="butt" stroke-linejoin="miter"/>
<path d="M882.5 344 h21 c1.2 0 1.6 1.2 0.6 2 c-3.4 2.6 -7.4 4.8 -11.1 6 c-3.7 -1.2 -7.7 -3.4 -11.1 -6 c-1 -0.8 -0.6 -2 0.6 -2z" fill="#000"/>
<path d="M866.5 393 L866.5 299 L930 299 L930 318" stroke="#25257c" stroke-width="3.5" fill="none" stroke-linecap="butt" stroke-linejoin="miter"/>
<rect x="926" y="318" width="7" height="12" fill="#fff"/>
<rect x="917.75" y="319" width="23.5" height="5.1" fill="#e8eefc" stroke="#3655b0" stroke-width="3"/>
<path d="M916.25 329 L942.75 329" stroke="#3655b0" stroke-width="3.3" fill="none" stroke-linecap="butt" stroke-linejoin="miter"/>
<path d="M930 328 L930 335 L893 335" stroke="#25257c" stroke-width="3.5" fill="none" stroke-linecap="butt" stroke-linejoin="miter"/>
<rect x="862.15" y="393.6" width="9.1" height="46.3" fill="#fff" stroke="#3655b0" stroke-width="3.4"/>
<path d="M866.5 440.5 L866.5 460" stroke="#25257c" stroke-width="3.5" fill="none" stroke-linecap="butt" stroke-linejoin="miter"/>
<path d="M948 268 L948 275" stroke="#25257c" stroke-width="3.5" fill="none" stroke-linecap="butt" stroke-linejoin="miter"/>
<rect x="945.2" y="275" width="7" height="12" fill="#fff"/>
<rect x="936.95" y="276" width="23.5" height="5.1" fill="#e8eefc" stroke="#3655b0" stroke-width="3"/>
<path d="M935.45 286 L961.95 286" stroke="#3655b0" stroke-width="3.3" fill="none" stroke-linecap="butt" stroke-linejoin="miter"/>
<path d="M948.5 286 L948.5 301" stroke="#000000" stroke-width="3.5" fill="none" stroke-linecap="butt" stroke-linejoin="miter"/>
<path d="M938 300 h21 c1.2 0 1.6 1.2 0.6 2 c-3.4 2.6 -7.4 4.8 -11.1 6 c-3.7 -1.2 -7.7 -3.4 -11.1 -6 c-1 -0.8 -0.6 -2 0.6 -2z" fill="#000"/>
<path d="M980.5 225 L1007.5 225" stroke="#8b1a1a" stroke-width="3.2" fill="none" stroke-linecap="butt" stroke-linejoin="miter"/>
<path d="M994 225 L994 249" stroke="#8b1a1a" stroke-width="3.2" fill="none" stroke-linecap="butt" stroke-linejoin="miter"/>
<path d="M994 249 L994 352.3 L1013 352.3" stroke="#25257c" stroke-width="3.5" fill="none" stroke-linecap="butt" stroke-linejoin="miter"/>
<rect x="1012" y="348.5" width="13" height="7.6" fill="#fff"/>
<rect x="1014" y="340" width="4.7" height="23.5" fill="#e8eefc" stroke="#3655b0" stroke-width="3"/>
<path d="M1023.6 338.5 L1023.6 365" stroke="#3655b0" stroke-width="3.3" fill="none" stroke-linecap="butt" stroke-linejoin="miter"/>
<path d="M1024 352.3 L1062 352.3" stroke="#25257c" stroke-width="3.5" fill="none" stroke-linecap="butt" stroke-linejoin="miter"/>
<path d="M1062 335 L1062 366.5" stroke="#3655b0" stroke-width="3.4" fill="none" stroke-linecap="butt" stroke-linejoin="miter"/>
<path d="M1076 335.5 L1062 349.5" stroke="#3655b0" stroke-width="3.6" fill="none" stroke-linecap="butt" stroke-linejoin="miter"/>
<path d="M1062 355.5 L1073 365" stroke="#3655b0" stroke-width="3.6" fill="none" stroke-linecap="butt" stroke-linejoin="miter"/>
<polygon points="1076,368 1067.67,366.05 1073.19,359.92" fill="#3655b0" stroke="none" stroke-width="0"/>
<path d="M1075.5 366 L1075.5 378" stroke="#25257c" stroke-width="3.5" fill="none" stroke-linecap="butt" stroke-linejoin="miter"/>
<path d="M1046 352.3 L1046 359" stroke="#25257c" stroke-width="3.5" fill="none" stroke-linecap="butt" stroke-linejoin="miter"/>
<polygon points="1035.2,369 1057.8,369 1046.5,358" fill="#3655b0" stroke="none" stroke-width="0"/>
<path d="M1034.4 358.6 L1058.6 358.6" stroke="#3655b0" stroke-width="4.3" fill="none" stroke-linecap="butt" stroke-linejoin="miter"/>
<path d="M1046 369 L1046 378 L1097 378" stroke="#25257c" stroke-width="3.5" fill="none" stroke-linecap="butt" stroke-linejoin="miter"/>
<path d="M1075.5 268 L1075.5 337" stroke="#25257c" stroke-width="3.5" fill="none" stroke-linecap="butt" stroke-linejoin="miter"/>
<polygon points="1064.8,307 1086.8,307 1075.8,296" fill="#3655b0" stroke="none" stroke-width="0"/>
<path d="M1064 296.6 L1087.6 296.6" stroke="#3655b0" stroke-width="4.3" fill="none" stroke-linecap="butt" stroke-linejoin="miter"/>
<path d="M1097 268 L1097 275" stroke="#25257c" stroke-width="3.5" fill="none" stroke-linecap="butt" stroke-linejoin="miter"/>
<rect x="1092.2" y="275.6" width="9.6" height="47.3" fill="#fff" stroke="#3655b0" stroke-width="3.4"/>
<path d="M1097 323.5 L1097 352" stroke="#25257c" stroke-width="3.5" fill="none" stroke-linecap="butt" stroke-linejoin="miter"/>
<rect x="1093.5" y="351.5" width="7" height="12" fill="#fff"/>
<rect x="1085.5" y="352.5" width="23" height="5.1" fill="#e8eefc" stroke="#3655b0" stroke-width="3"/>
<path d="M1084 362.5 L1110 362.5" stroke="#3655b0" stroke-width="3.3" fill="none" stroke-linecap="butt" stroke-linejoin="miter"/>
<path d="M1097 362 L1097 378" stroke="#25257c" stroke-width="3.5" fill="none" stroke-linecap="butt" stroke-linejoin="miter"/>
<path d="M1097 378 L1097 387.5" stroke="#000000" stroke-width="3.5" fill="none" stroke-linecap="butt" stroke-linejoin="miter"/>
<path d="M1086.5 386.5 h21 c1.2 0 1.6 1.2 0.6 2 c-3.4 2.6 -7.4 4.8 -11.1 6 c-3.7 -1.2 -7.7 -3.4 -11.1 -6 c-1 -0.8 -0.6 -2 0.6 -2z" fill="#000"/>
<path d="M1075.5 330.5 L1143 330.5" stroke="#25257c" stroke-width="3.5" fill="none" stroke-linecap="butt" stroke-linejoin="miter"/>
<polygon points="1143,318 1204,318 1215,330.3 1204,342.5 1143,342.5" fill="#f6e97e" stroke="#b0352c" stroke-width="1.5"/>
<polygon points="1147.5,257.2 1147.5,278.8 1158,268" fill="#3655b0" stroke="none" stroke-width="0"/>
<path d="M1157.4 256.4 L1157.4 279.6" stroke="#3655b0" stroke-width="4.2" fill="none" stroke-linecap="butt" stroke-linejoin="miter"/>
<path d="M1185.5 268 L1185.5 275" stroke="#25257c" stroke-width="3.5" fill="none" stroke-linecap="butt" stroke-linejoin="miter"/>
<rect x="1182.5" y="275" width="7" height="12" fill="#fff"/>
<rect x="1174.5" y="276" width="23" height="5.1" fill="#e8eefc" stroke="#3655b0" stroke-width="3"/>
<path d="M1173 286 L1199 286" stroke="#3655b0" stroke-width="3.3" fill="none" stroke-linecap="butt" stroke-linejoin="miter"/>
<path d="M1186 286 L1186 301" stroke="#000000" stroke-width="3.5" fill="none" stroke-linecap="butt" stroke-linejoin="miter"/>
<path d="M1175.5 300 h21 c1.2 0 1.6 1.2 0.6 2 c-3.4 2.6 -7.4 4.8 -11.1 6 c-3.7 -1.2 -7.7 -3.4 -11.1 -6 c-1 -0.8 -0.6 -2 0.6 -2z" fill="#000"/>
<polygon points="1224,255.5 1285.5,255.5 1297,268 1285.5,280 1224,280" fill="#f6e97e" stroke="#b0352c" stroke-width="1.5"/>
<rect x="1013.65" y="467.1" width="9.1" height="48.3" fill="#fff" stroke="#3655b0" stroke-width="3.4"/>
<path d="M1018 460 L1018 467.5" stroke="#25257c" stroke-width="3.5" fill="none" stroke-linecap="butt" stroke-linejoin="miter"/>
<path d="M1018 515 L1018 529.5" stroke="#000000" stroke-width="3.5" fill="none" stroke-linecap="butt" stroke-linejoin="miter"/>
<rect x="1040.15" y="467.1" width="9.1" height="48.3" fill="#fff" stroke="#3655b0" stroke-width="3.4"/>
<path d="M1044.5 460 L1044.5 467.5" stroke="#25257c" stroke-width="3.5" fill="none" stroke-linecap="butt" stroke-linejoin="miter"/>
<path d="M1044.5 515 L1044.5 540" stroke="#25257c" stroke-width="3.5" fill="none" stroke-linecap="butt" stroke-linejoin="miter"/>
<rect x="1041" y="539.5" width="7" height="12" fill="#fff"/>
<rect x="1032.5" y="540.5" width="24" height="5.1" fill="#e8eefc" stroke="#3655b0" stroke-width="3"/>
<path d="M1031 550.5 L1058 550.5" stroke="#3655b0" stroke-width="3.3" fill="none" stroke-linecap="butt" stroke-linejoin="miter"/>
<path d="M1044.5 550 L1044.5 565.5" stroke="#000000" stroke-width="3.5" fill="none" stroke-linecap="butt" stroke-linejoin="miter"/>
<path d="M1034 564.5 h21 c1.2 0 1.6 1.2 0.6 2 c-3.4 2.6 -7.4 4.8 -11.1 6 c-3.7 -1.2 -7.7 -3.4 -11.1 -6 c-1 -0.8 -0.6 -2 0.6 -2z" fill="#000"/>
<path d="M1044.5 532 L1166 532" stroke="#25257c" stroke-width="3.5" fill="none" stroke-linecap="butt" stroke-linejoin="miter"/>
<rect x="1052.1" y="456" width="47.8" height="8" fill="#fff" stroke="#3655b0" stroke-width="3.4"/>
<rect x="1128.2" y="467.1" width="9.6" height="48.3" fill="#fff" stroke="#3655b0" stroke-width="3.4"/>
<path d="M1133 460 L1133 467.5" stroke="#25257c" stroke-width="3.5" fill="none" stroke-linecap="butt" stroke-linejoin="miter"/>
<path d="M1133 515 L1133 583" stroke="#25257c" stroke-width="3.5" fill="none" stroke-linecap="butt" stroke-linejoin="miter"/>
<path d="M1150 459.5 L1163.5 473.5" stroke="#3655b0" stroke-width="3.6" fill="none" stroke-linecap="butt" stroke-linejoin="miter"/>
<path d="M1168.5 473.5 L1180 462" stroke="#3655b0" stroke-width="3.6" fill="none" stroke-linecap="butt" stroke-linejoin="miter"/>
<polygon points="1183,459 1180.9,467.3 1174.87,461.67" fill="#3655b0" stroke="none" stroke-width="0"/>
<path d="M1148 475.2 L1183 475.2" stroke="#3655b0" stroke-width="3.4" fill="none" stroke-linecap="butt" stroke-linejoin="miter"/>
<path d="M1166 475.5 L1166 532" stroke="#25257c" stroke-width="3.5" fill="none" stroke-linecap="butt" stroke-linejoin="miter"/>
<path d="M1182 460 L1286 460" stroke="#25257c" stroke-width="3.5" fill="none" stroke-linecap="butt" stroke-linejoin="miter"/>
<path d="M1182 536 L1182 569" stroke="#3655b0" stroke-width="3.4" fill="none" stroke-linecap="butt" stroke-linejoin="miter"/>
<path d="M1166 537 L1182 551.5" stroke="#3655b0" stroke-width="3.6" fill="none" stroke-linecap="butt" stroke-linejoin="miter"/>
<path d="M1182 556 L1170.5 565.5" stroke="#3655b0" stroke-width="3.6" fill="none" stroke-linecap="butt" stroke-linejoin="miter"/>
<polygon points="1166.5,568.5 1169.95,560.05 1175.49,566.88" fill="#3655b0" stroke="none" stroke-width="0"/>
<path d="M1167.5 566 L1167.5 573 L1133 573" stroke="#25257c" stroke-width="3.5" fill="none" stroke-linecap="butt" stroke-linejoin="miter"/>
<path d="M1182 553 L1207.5 553" stroke="#25257c" stroke-width="3.5" fill="none" stroke-linecap="butt" stroke-linejoin="miter"/>
<rect x="1203.2" y="467.1" width="9.6" height="48.3" fill="#fff" stroke="#3655b0" stroke-width="3.4"/>
<path d="M1207.5 460 L1207.5 467.5" stroke="#25257c" stroke-width="3.5" fill="none" stroke-linecap="butt" stroke-linejoin="miter"/>
<path d="M1207.5 515 L1207.5 560.5" stroke="#25257c" stroke-width="3.5" fill="none" stroke-linecap="butt" stroke-linejoin="miter"/>
<rect x="1203.2" y="561.1" width="9.6" height="47.8" fill="#fff" stroke="#3655b0" stroke-width="3.4"/>
<path d="M1207.5 609.5 L1207.5 615" stroke="#25257c" stroke-width="3.5" fill="none" stroke-linecap="butt" stroke-linejoin="miter"/>
<path d="M1207.5 615 L1207.5 625.5" stroke="#000000" stroke-width="3.5" fill="none" stroke-linecap="butt" stroke-linejoin="miter"/>
<path d="M1197 624.5 h21 c1.2 0 1.6 1.2 0.6 2 c-3.4 2.6 -7.4 4.8 -11.1 6 c-3.7 -1.2 -7.7 -3.4 -11.1 -6 c-1 -0.8 -0.6 -2 0.6 -2z" fill="#000"/>
<polygon points="1121.5,593 1144.5,593 1133,582.5" fill="#3655b0" stroke="none" stroke-width="0"/>
<path d="M1120 586.1 l3 -3.2 L1143 582.9 l3.2 -3" stroke="#3655b0" stroke-width="3.6" fill="none" stroke-linejoin="round" stroke-linecap="round"/>
<path d="M1133 593 L1133 615 L1207.5 615" stroke="#25257c" stroke-width="3.5" fill="none" stroke-linecap="butt" stroke-linejoin="miter"/>
<path d="M1243 460 L1243 479" stroke="#25257c" stroke-width="3.5" fill="none" stroke-linecap="butt" stroke-linejoin="miter"/>
<rect x="1240" y="478.5" width="7" height="12" fill="#fff"/>
<rect x="1231.5" y="479.5" width="24" height="5.1" fill="#e8eefc" stroke="#3655b0" stroke-width="3"/>
<path d="M1230 489.5 L1257 489.5" stroke="#3655b0" stroke-width="3.3" fill="none" stroke-linecap="butt" stroke-linejoin="miter"/>
<path d="M1243 489.5 L1243 505.7" stroke="#000000" stroke-width="3.5" fill="none" stroke-linecap="butt" stroke-linejoin="miter"/>
<path d="M1232.5 504.7 h21 c1.2 0 1.6 1.2 0.6 2 c-3.4 2.6 -7.4 4.8 -11.1 6 c-3.7 -1.2 -7.7 -3.4 -11.1 -6 c-1 -0.8 -0.6 -2 0.6 -2z" fill="#000"/>
<path d="M1271 436 L1298 436" stroke="#8b1a1a" stroke-width="3.2" fill="none" stroke-linecap="butt" stroke-linejoin="miter"/>
<path d="M1285 436 L1285 461.5" stroke="#8b1a1a" stroke-width="3.2" fill="none" stroke-linecap="butt" stroke-linejoin="miter"/>
<rect x="1013.65" y="530.1" width="9.1" height="47.3" fill="#fff" stroke="#3655b0" stroke-width="3.4"/>
<path d="M1018 578 L1018 642" stroke="#25257c" stroke-width="3.5" fill="none" stroke-linecap="butt" stroke-linejoin="miter"/>
<path d="M1018 642 L1071.5 642 L1071.5 650" stroke="#25257c" stroke-width="3.5" fill="none" stroke-linecap="butt" stroke-linejoin="miter"/>
<rect x="1067.7" y="648.8" width="7" height="12" fill="#fff"/>
<rect x="1059.2" y="649.8" width="24" height="5.1" fill="#e8eefc" stroke="#3655b0" stroke-width="3"/>
<path d="M1057.7 659.8 L1084.7 659.8" stroke="#3655b0" stroke-width="3.3" fill="none" stroke-linecap="butt" stroke-linejoin="miter"/>
<path d="M1071.5 660 L1071.5 675.5" stroke="#000000" stroke-width="3.5" fill="none" stroke-linecap="butt" stroke-linejoin="miter"/>
<path d="M1061 674.5 h21 c1.2 0 1.6 1.2 0.6 2 c-3.4 2.6 -7.4 4.8 -11.1 6 c-3.7 -1.2 -7.7 -3.4 -11.1 -6 c-1 -0.8 -0.6 -2 0.6 -2z" fill="#000"/>
<path d="M994.5 641 L994.5 650" stroke="#000000" stroke-width="3.5" fill="none" stroke-linecap="butt" stroke-linejoin="miter"/>
<path d="M994.5 679 L994.5 687.5" stroke="#000000" stroke-width="3.5" fill="none" stroke-linecap="butt" stroke-linejoin="miter"/>
<path d="M994.5 649 C1000.48 649.39 1000.48 656.36 994.5 656.75 C1000.48 657.14 1000.48 664.11 994.5 664.5 C1000.48 664.89 1000.48 671.86 994.5 672.25 C1000.48 672.64 1000.48 679.61 994.5 680" stroke="#3655b0" stroke-width="3.8" fill="none" stroke-linejoin="round"/>
<path d="M1018 642 L1016.5 649" stroke="#25257c" stroke-width="3.5" fill="none" stroke-linecap="butt" stroke-linejoin="miter"/>
<path d="M1016.5 648 C1010 648.53 1010 658.13 1016.5 658.67 C1010 659.2 1010 668.8 1016.5 669.33 C1010 669.87 1010 679.47 1016.5 680" stroke="#3655b0" stroke-width="3.8" fill="none" stroke-linejoin="round"/>
<path d="M1016 679 L1016 685.5 L1059.3 685.5 L1059.3 696" stroke="#25257c" stroke-width="3.5" fill="none" stroke-linecap="butt" stroke-linejoin="miter"/>
<rect x="1052.3" y="695.8" width="18.9" height="12.9" fill="#fff" stroke="#3655b0" stroke-width="3.6"/>
<polygon points="1054,698 1066,702.2 1054,706.5" fill="#3655b0" stroke="none" stroke-width="0"/>
<path d="M1062 702.2 L1071 702.2" stroke="#3655b0" stroke-width="3.4" fill="none" stroke-linecap="butt" stroke-linejoin="miter"/>
<path d="M1074 687 L1074 718.5" stroke="#3655b0" stroke-width="3.6" fill="none" stroke-linecap="butt" stroke-linejoin="miter"/>
<path d="M1079.2 687 L1079.2 718.5" stroke="#3655b0" stroke-width="2.8" fill="none" stroke-linecap="butt" stroke-linejoin="miter"/>
<path d="M1079 717 L1191 717" stroke="#25257c" stroke-width="3.5" fill="none" stroke-linecap="butt" stroke-linejoin="miter"/>
<path d="M1186 717 L1191 717" stroke="#000000" stroke-width="3.5" fill="none" stroke-linecap="butt" stroke-linejoin="miter"/>
<rect x="1190.5" y="713.5" width="5.5" height="7" fill="#fff"/>
<path d="M1190.5 706.2 L1190.5 727.8" stroke="#3655b0" stroke-width="3.3" fill="none" stroke-linecap="butt" stroke-linejoin="miter"/>
<path d="M1196 706.2 L1196 727.8" stroke="#3655b0" stroke-width="3.3" fill="none" stroke-linecap="butt" stroke-linejoin="miter"/>
<path d="M1196 717 L1209.5 717" stroke="#000000" stroke-width="3.5" fill="none" stroke-linecap="butt" stroke-linejoin="miter"/>
<rect x="1210.1" y="712.6" width="47.8" height="8.2" fill="#fff" stroke="#3655b0" stroke-width="3.4"/>
<path d="M1258.5 717 L1266.5 717" stroke="#000000" stroke-width="3.5" fill="none" stroke-linecap="butt" stroke-linejoin="miter"/>
<path d="M1059.3 710 L1059.3 779" stroke="#25257c" stroke-width="3.5" fill="none" stroke-linecap="butt" stroke-linejoin="miter"/>
<path d="M1059.3 779 L1059.3 788.8" stroke="#000000" stroke-width="3.5" fill="none" stroke-linecap="butt" stroke-linejoin="miter"/>
<path d="M1048.8 787.8 h21 c1.2 0 1.6 1.2 0.6 2 c-3.4 2.6 -7.4 4.8 -11.1 6 c-3.7 -1.2 -7.7 -3.4 -11.1 -6 c-1 -0.8 -0.6 -2 0.6 -2z" fill="#000"/>
<path d="M1032.5 685.5 L1032.5 779 L1155 779 L1155 717" stroke="#25257c" stroke-width="3.5" fill="none" stroke-linecap="butt" stroke-linejoin="miter"/>
<polygon points="1021,751.5 1044,751.5 1032.5,741" fill="#3655b0" stroke="none" stroke-width="0"/>
<path d="M1019.5 744.6 l3 -3.2 L1042.5 741.4 l3.2 -3" stroke="#3655b0" stroke-width="3.6" fill="none" stroke-linejoin="round" stroke-linecap="round"/>
<polygon points="1143.7,751 1166.3,751 1155,740.5" fill="#3655b0" stroke="none" stroke-width="0"/>
<path d="M1142.9 741.1 L1167.1 741.1" stroke="#3655b0" stroke-width="4.3" fill="none" stroke-linecap="butt" stroke-linejoin="miter"/>
<path d="M1123 717 L1123 723.5" stroke="#25257c" stroke-width="3.5" fill="none" stroke-linecap="butt" stroke-linejoin="miter"/>
<rect x="1119" y="724.1" width="9.6" height="47.3" fill="#fff" stroke="#3655b0" stroke-width="3.4"/>
<path d="M1123 772 L1123 779" stroke="#25257c" stroke-width="3.5" fill="none" stroke-linecap="butt" stroke-linejoin="miter"/>
<rect x="664" y="555" width="59" height="36" fill="#fff" stroke="#3655b0" stroke-width="3"/>
<path d="M682.5 559 L682.5 586" stroke="#3655b0" stroke-width="3.4" fill="none" stroke-linecap="butt" stroke-linejoin="miter"/>
<path d="M666.5 562 L682.5 572" stroke="#3655b0" stroke-width="3.4" fill="none" stroke-linecap="butt" stroke-linejoin="miter"/>
<path d="M682.5 576 L671 583" stroke="#3655b0" stroke-width="3.4" fill="none" stroke-linecap="butt" stroke-linejoin="miter"/>
<polygon points="667,585.5 671.45,577.53 676.12,584.99" fill="#3655b0" stroke="none" stroke-width="0"/>
<polygon points="697.5,565.5 721.5,565.5 709.5,579" fill="#3655b0" stroke="none" stroke-width="0"/>
<path d="M723 563.7 L708.8 563.7 L708.8 585 L723 585" stroke="#3655b0" stroke-width="3" fill="none" stroke-linecap="butt" stroke-linejoin="miter"/>
<path d="M707.5 579.3 L722 579.3" stroke="#3655b0" stroke-width="3.2" fill="none" stroke-linecap="butt" stroke-linejoin="miter"/>
<path d="M701 567.5 L694.5 574" stroke="#3655b0" stroke-width="3.6" fill="none" stroke-linecap="butt" stroke-linejoin="miter"/>
<path d="M695 565.5 L688.5 572" stroke="#3655b0" stroke-width="3.6" fill="none" stroke-linecap="butt" stroke-linejoin="miter"/>
<polygon points="690.5,578.5 692.73,570.83 698.17,576.27" fill="#3655b0" stroke="none" stroke-width="0"/>
<polygon points="684.5,576.5 686.73,568.83 692.17,574.27" fill="#3655b0" stroke="none" stroke-width="0"/>
<path d="M724 563.5 L738 563.5" stroke="#000000" stroke-width="3.5" fill="none" stroke-linecap="butt" stroke-linejoin="miter"/>
<rect x="738.1" y="560" width="46.8" height="8" fill="#fff" stroke="#3655b0" stroke-width="3.4"/>
<path d="M785.5 563.7 L890 563.7" stroke="#25257c" stroke-width="3.5" fill="none" stroke-linecap="butt" stroke-linejoin="miter"/>
<path d="M785.5 563.7 L791 563.7" stroke="#000000" stroke-width="3.5" fill="none" stroke-linecap="butt" stroke-linejoin="miter"/>
<rect x="800.8" y="569.8" width="7" height="12" fill="#fff"/>
<rect x="792.55" y="570.8" width="23.5" height="5.1" fill="#e8eefc" stroke="#3655b0" stroke-width="3"/>
<path d="M791.05 580.8 L817.55 580.8" stroke="#3655b0" stroke-width="3.3" fill="none" stroke-linecap="butt" stroke-linejoin="miter"/>
<path d="M804 581 L804 597" stroke="#000000" stroke-width="3.5" fill="none" stroke-linecap="butt" stroke-linejoin="miter"/>
<path d="M793.5 596 h21 c1.2 0 1.6 1.2 0.6 2 c-3.4 2.6 -7.4 4.8 -11.1 6 c-3.7 -1.2 -7.7 -3.4 -11.1 -6 c-1 -0.8 -0.6 -2 0.6 -2z" fill="#000"/>
<polygon points="899.5,553.4 899.5,574 889.3,563.7" fill="#3655b0" stroke="none" stroke-width="0"/>
<path d="M889.9 552.6 L889.9 574.8" stroke="#3655b0" stroke-width="4.2" fill="none" stroke-linecap="butt" stroke-linejoin="miter"/>
<path d="M899.5 563.7 L934 563.7" stroke="#000000" stroke-width="3.5" fill="none" stroke-linecap="butt" stroke-linejoin="miter"/>
<rect x="934" y="560" width="5.2" height="7" fill="#fff"/>
<path d="M934 552.5 L934 574.5" stroke="#3655b0" stroke-width="3.3" fill="none" stroke-linecap="butt" stroke-linejoin="miter"/>
<path d="M939.2 552.5 L939.2 574.5" stroke="#3655b0" stroke-width="3.3" fill="none" stroke-linecap="butt" stroke-linejoin="miter"/>
<path d="M939.5 563.5 L946.5 563.5" stroke="#000000" stroke-width="3.5" fill="none" stroke-linecap="butt" stroke-linejoin="miter"/>
<polygon points="946,563 956.5,551 1009.5,551 1019.5,563 1009.5,575 956.5,575" fill="#f6e97e" stroke="#b0352c" stroke-width="1.5"/>
<rect x="1013.65" y="530.1" width="9.1" height="47.3" fill="#fff" stroke="#3655b0" stroke-width="3.4"/>
<path d="M1017.5 561.2 L1019.6 563 L1017.5 564.8" stroke="#b5302a" stroke-width="1" fill="none" stroke-linecap="butt" stroke-linejoin="miter"/>
<polygon points="901.2,588 923.8,588 912.5,577.5" fill="#3655b0" stroke="none" stroke-width="0"/>
<path d="M900.4 578.1 L924.6 578.1" stroke="#3655b0" stroke-width="4.3" fill="none" stroke-linecap="butt" stroke-linejoin="miter"/>
<path d="M912.5 563.7 L912.5 578" stroke="#000000" stroke-width="3.5" fill="none" stroke-linecap="butt" stroke-linejoin="miter"/>
<path d="M912.5 588 L912.5 604" stroke="#000000" stroke-width="3.5" fill="none" stroke-linecap="butt" stroke-linejoin="miter"/>
<path d="M902 603 h21 c1.2 0 1.6 1.2 0.6 2 c-3.4 2.6 -7.4 4.8 -11.1 6 c-3.7 -1.2 -7.7 -3.4 -11.1 -6 c-1 -0.8 -0.6 -2 0.6 -2z" fill="#000"/>
<path d="M852 563.7 L852 570.5" stroke="#25257c" stroke-width="3.5" fill="none" stroke-linecap="butt" stroke-linejoin="miter"/>
<rect x="847.95" y="571.1" width="9.1" height="46.8" fill="#fff" stroke="#3655b0" stroke-width="3.4"/>
<path d="M852 618.5 L852 633" stroke="#000000" stroke-width="3.5" fill="none" stroke-linecap="butt" stroke-linejoin="miter"/>
<polygon points="841,644 863,644 852,633" fill="#3655b0" stroke="none" stroke-width="0"/>
<path d="M840.2 633.6 L863.8 633.6" stroke="#3655b0" stroke-width="4.3" fill="none" stroke-linecap="butt" stroke-linejoin="miter"/>
<path d="M841 636 L841 633.5" stroke="#3655b0" stroke-width="2" fill="none" stroke-linecap="butt" stroke-linejoin="miter"/>
<path d="M863 636 L863 633.5" stroke="#3655b0" stroke-width="2" fill="none" stroke-linecap="butt" stroke-linejoin="miter"/>
<path d="M852 644 L852 656.5" stroke="#25257c" stroke-width="3.5" fill="none" stroke-linecap="butt" stroke-linejoin="miter"/>
<path d="M852 649.5 L912 649.5" stroke="#25257c" stroke-width="3.5" fill="none" stroke-linecap="butt" stroke-linejoin="miter"/>
<polygon points="923,638.9 923,660.1 912,649.5" fill="#3655b0" stroke="none" stroke-width="0"/>
<path d="M912.6 638.1 L912.6 660.9" stroke="#3655b0" stroke-width="4.2" fill="none" stroke-linecap="butt" stroke-linejoin="miter"/>
<path d="M923 649.5 L931.5 649.5" stroke="#000000" stroke-width="3.5" fill="none" stroke-linecap="butt" stroke-linejoin="miter"/>
<rect x="847.95" y="657.1" width="9.1" height="46.8" fill="#fff" stroke="#3655b0" stroke-width="3.4"/>
<path d="M852 704.5 L852 741" stroke="#25257c" stroke-width="3.5" fill="none" stroke-linecap="butt" stroke-linejoin="miter"/>
<rect x="849" y="741" width="7" height="5" fill="#fff"/>
<path d="M841 741 L864 741" stroke="#3655b0" stroke-width="3.3" fill="none" stroke-linecap="butt" stroke-linejoin="miter"/>
<path d="M841 746 L864 746" stroke="#3655b0" stroke-width="3.3" fill="none" stroke-linecap="butt" stroke-linejoin="miter"/>
<path d="M852.5 746 L852.5 762" stroke="#000000" stroke-width="3.5" fill="none" stroke-linecap="butt" stroke-linejoin="miter"/>
<path d="M842 761 h21 c1.2 0 1.6 1.2 0.6 2 c-3.4 2.6 -7.4 4.8 -11.1 6 c-3.7 -1.2 -7.7 -3.4 -11.1 -6 c-1 -0.8 -0.6 -2 0.6 -2z" fill="#000"/>
<path d="M749 719 L890 719" stroke="#25257c" stroke-width="3.5" fill="none" stroke-linecap="butt" stroke-linejoin="miter"/>
<rect x="792.1" y="715.1" width="47.8" height="8.2" fill="#fff" stroke="#3655b0" stroke-width="3.4"/>
<polygon points="899.5,708.4 899.5,729.6 889,719" fill="#3655b0" stroke="none" stroke-width="0"/>
<path d="M889.6 707.6 L889.6 730.4" stroke="#3655b0" stroke-width="4.2" fill="none" stroke-linecap="butt" stroke-linejoin="miter"/>
<path d="M899.5 719 L929 719" stroke="#000000" stroke-width="3.5" fill="none" stroke-linecap="butt" stroke-linejoin="miter"/>
<rect x="929" y="715.5" width="5.5" height="7" fill="#fff"/>
<path d="M929 708 L929 730" stroke="#3655b0" stroke-width="3.3" fill="none" stroke-linecap="butt" stroke-linejoin="miter"/>
<path d="M934.5 708 L934.5 730" stroke="#3655b0" stroke-width="3.3" fill="none" stroke-linecap="butt" stroke-linejoin="miter"/>
<path d="M934.5 719 L941.5 719" stroke="#000000" stroke-width="3.5" fill="none" stroke-linecap="butt" stroke-linejoin="miter"/>
<polygon points="941,719.2 952.5,707 1002.5,707 1013.5,719.2 1002.5,731.5 952.5,731.5" fill="#f6e97e" stroke="#b0352c" stroke-width="1.5"/>
<polygon points="901.3,739 923.7,739 912.5,728" fill="#3655b0" stroke="none" stroke-width="0"/>
<path d="M900.5 728.6 L924.5 728.6" stroke="#3655b0" stroke-width="4.3" fill="none" stroke-linecap="butt" stroke-linejoin="miter"/>
<path d="M912.5 719 L912.5 729" stroke="#000000" stroke-width="3.5" fill="none" stroke-linecap="butt" stroke-linejoin="miter"/>
<path d="M912.5 739 L912.5 755" stroke="#000000" stroke-width="3.5" fill="none" stroke-linecap="butt" stroke-linejoin="miter"/>
<path d="M902 754 h21 c1.2 0 1.6 1.2 0.6 2 c-3.4 2.6 -7.4 4.8 -11.1 6 c-3.7 -1.2 -7.7 -3.4 -11.1 -6 c-1 -0.8 -0.6 -2 0.6 -2z" fill="#000"/>
<path d="M724 585 L734.5 585 L734.5 704" stroke="#25257c" stroke-width="3.5" fill="none" stroke-linecap="butt" stroke-linejoin="miter"/>
<path d="M749 701 L749 735.5" stroke="#3655b0" stroke-width="3.4" fill="none" stroke-linecap="butt" stroke-linejoin="miter"/>
<path d="M734 703 L749 717.5" stroke="#3655b0" stroke-width="3.6" fill="none" stroke-linecap="butt" stroke-linejoin="miter"/>
<path d="M749 721.5 L738 731" stroke="#3655b0" stroke-width="3.6" fill="none" stroke-linecap="butt" stroke-linejoin="miter"/>
<polygon points="734,734.5 737.15,725.93 742.92,732.57" fill="#3655b0" stroke="none" stroke-width="0"/>
<path d="M734.5 733 L734.5 781" stroke="#25257c" stroke-width="3.5" fill="none" stroke-linecap="butt" stroke-linejoin="miter"/>
<path d="M734.5 781 L734.5 790.5" stroke="#000000" stroke-width="3.5" fill="none" stroke-linecap="butt" stroke-linejoin="miter"/>
<path d="M724 789.5 h21 c1.2 0 1.6 1.2 0.6 2 c-3.4 2.6 -7.4 4.8 -11.1 6 c-3.7 -1.2 -7.7 -3.4 -11.1 -6 c-1 -0.8 -0.6 -2 0.6 -2z" fill="#000"/>
<path d="M763.5 719 L763.5 725.5" stroke="#25257c" stroke-width="3.5" fill="none" stroke-linecap="butt" stroke-linejoin="miter"/>
<rect x="758.7" y="726.1" width="9.6" height="47.8" fill="#fff" stroke="#3655b0" stroke-width="3.4"/>
<path d="M763.5 774.5 L763.5 781" stroke="#25257c" stroke-width="3.5" fill="none" stroke-linecap="butt" stroke-linejoin="miter"/>
<path d="M785 719 L785 781 L734.5 781" stroke="#25257c" stroke-width="3.5" fill="none" stroke-linecap="butt" stroke-linejoin="miter"/>
<polygon points="773.8,761 796.2,761 785,750" fill="#3655b0" stroke="none" stroke-width="0"/>
<path d="M773 750.6 L797 750.6" stroke="#3655b0" stroke-width="4.3" fill="none" stroke-linecap="butt" stroke-linejoin="miter"/>
<path d="M663 585 L631.5 585 L631.5 594" stroke="#25257c" stroke-width="3.5" fill="none" stroke-linecap="butt" stroke-linejoin="miter"/>
<path d="M621.5 593.5 h21 c1.2 0 1.6 1.2 0.6 2 c-3.4 2.6 -7.4 4.8 -11.1 6 c-3.7 -1.2 -7.7 -3.4 -11.1 -6 c-1 -0.8 -0.6 -2 0.6 -2z" fill="#000"/>
<path d="M555.5 146 H579.5 Q584 146 584 150.5 V163.5 Q584 168 579.5 168 H569 L560 174.5 L558.5 168 H555.5 Q551 168 551 163.5 V150.5 Q551 146 555.5 146 Z" fill="#ffff00" stroke="#000" stroke-width="1"/>
<path d="M557 151.94 H578" stroke="#4a4a00" stroke-width="1.3"/>
<path d="M557 156.56 H578" stroke="#4a4a00" stroke-width="1.3"/>
<path d="M557 161.18 H571.46" stroke="#4a4a00" stroke-width="1.3"/>
<path d="M624.5 482 H647.5 Q652 482 652 486.5 V499.5 Q652 504 647.5 504 H637.5 L628.5 510.5 L627 504 H624.5 Q620 504 620 499.5 V486.5 Q620 482 624.5 482 Z" fill="#ffff00" stroke="#000" stroke-width="1"/>
<path d="M626 487.94 H646" stroke="#4a4a00" stroke-width="1.3"/>
<path d="M626 492.56 H646" stroke="#4a4a00" stroke-width="1.3"/>
<path d="M626 497.18 H639.84" stroke="#4a4a00" stroke-width="1.3"/>
<path d="M969 413 H992.5 Q997 413 997 417.5 V431.5 Q997 436 992.5 436 H981.5 L972.5 442 L971 436 H969 Q964.5 436 964.5 431.5 V417.5 Q964.5 413 969 413 Z" fill="#ffff00" stroke="#000" stroke-width="1"/>
<path d="M970.5 419.21 H991" stroke="#4a4a00" stroke-width="1.3"/>
<path d="M970.5 424.04 H991" stroke="#4a4a00" stroke-width="1.3"/>
<path d="M970.5 428.87 H984.65" stroke="#4a4a00" stroke-width="1.3"/>
<circle cx="99" cy="65" r="5.25" fill="#8b1a1a"/>
<circle cx="151.5" cy="65" r="5.25" fill="#8b1a1a"/>
<circle cx="259" cy="65" r="5.25" fill="#8b1a1a"/>
<circle cx="99" cy="127" r="5.25" fill="#8b1a1a"/>
<circle cx="99" cy="189" r="5.25" fill="#8b1a1a"/>
<circle cx="151.5" cy="163" r="5.25" fill="#8b1a1a"/>
<circle cx="99" cy="306.7" r="5.25" fill="#8b1a1a"/>
<circle cx="151.5" cy="306.7" r="5.25" fill="#8b1a1a"/>
<circle cx="197" cy="306.7" r="5.25" fill="#8b1a1a"/>
<circle cx="259.7" cy="306.7" r="5.25" fill="#8b1a1a"/>
<circle cx="293.3" cy="306.7" r="5.25" fill="#8b1a1a"/>
<circle cx="355.7" cy="306.7" r="5.25" fill="#8b1a1a"/>
<circle cx="99" cy="366.5" r="5.25" fill="#8b1a1a"/>
<circle cx="151.5" cy="366.5" r="5.25" fill="#8b1a1a"/>
<circle cx="271" cy="234.5" r="5.25" fill="#8b1a1a"/>
<circle cx="271" cy="268" r="5.25" fill="#8b1a1a"/>
<circle cx="332" cy="234.5" r="5.25" fill="#8b1a1a"/>
<circle cx="428" cy="237" r="5.25" fill="#8b1a1a"/>
<circle cx="259.7" cy="392.5" r="5.25" fill="#8b1a1a"/>
<circle cx="293.3" cy="412" r="5.25" fill="#8b1a1a"/>
<circle cx="332" cy="412" r="5.25" fill="#8b1a1a"/>
<circle cx="404" cy="412" r="5.25" fill="#8b1a1a"/>
<circle cx="404" cy="474.5" r="5.25" fill="#8b1a1a"/>
<circle cx="404" cy="536" r="5.25" fill="#8b1a1a"/>
<circle cx="586" cy="237" r="5.25" fill="#8b1a1a"/>
<circle cx="586" cy="284.5" r="5.25" fill="#8b1a1a"/>
<circle cx="484" cy="339.7" r="5.25" fill="#8b1a1a"/>
<circle cx="511.5" cy="339.7" r="5.25" fill="#8b1a1a"/>
<circle cx="533" cy="339.7" r="5.25" fill="#8b1a1a"/>
<circle cx="483.5" cy="390.5" r="5.25" fill="#8b1a1a"/>
<circle cx="533" cy="563.4" r="5.25" fill="#8b1a1a"/>
<circle cx="130" cy="484" r="5.25" fill="#8b1a1a"/>
<circle cx="177.5" cy="484" r="5.25" fill="#8b1a1a"/>
<circle cx="130" cy="508" r="5.25" fill="#8b1a1a"/>
<circle cx="177.5" cy="508" r="5.25" fill="#8b1a1a"/>
<circle cx="130" cy="532" r="5.25" fill="#8b1a1a"/>
<circle cx="177.5" cy="532" r="5.25" fill="#8b1a1a"/>
<circle cx="816" cy="65.5" r="5.25" fill="#8b1a1a"/>
<circle cx="816" cy="117" r="5.25" fill="#8b1a1a"/>
<circle cx="816" cy="170" r="5.25" fill="#8b1a1a"/>
<circle cx="816" cy="222" r="5.25" fill="#8b1a1a"/>
<circle cx="816" cy="268" r="5.25" fill="#8b1a1a"/>
<circle cx="816" cy="321" r="5.25" fill="#8b1a1a"/>
<circle cx="818" cy="362" r="5.25" fill="#8b1a1a"/>
<circle cx="818" cy="414.5" r="5.25" fill="#8b1a1a"/>
<circle cx="816" cy="460" r="5.25" fill="#8b1a1a"/>
<circle cx="816" cy="512.5" r="5.25" fill="#8b1a1a"/>
<circle cx="866.5" cy="460" r="5.25" fill="#8b1a1a"/>
<circle cx="893" cy="299" r="5.25" fill="#8b1a1a"/>
<circle cx="893" cy="335" r="5.25" fill="#8b1a1a"/>
<circle cx="948" cy="268" r="5.25" fill="#8b1a1a"/>
<circle cx="994" cy="249" r="5.25" fill="#8b1a1a"/>
<circle cx="1075.5" cy="268" r="5.25" fill="#8b1a1a"/>
<circle cx="1097" cy="268" r="5.25" fill="#8b1a1a"/>
<circle cx="1185.5" cy="268" r="5.25" fill="#8b1a1a"/>
<circle cx="1075.5" cy="330.5" r="5.25" fill="#8b1a1a"/>
<circle cx="1097" cy="330.5" r="5.25" fill="#8b1a1a"/>
<circle cx="1046" cy="352.3" r="5.25" fill="#8b1a1a"/>
<circle cx="1075.5" cy="378" r="5.25" fill="#8b1a1a"/>
<circle cx="1097" cy="378" r="5.25" fill="#8b1a1a"/>
<circle cx="1018" cy="460" r="5.25" fill="#8b1a1a"/>
<circle cx="1044.5" cy="460" r="5.25" fill="#8b1a1a"/>
<circle cx="1133" cy="460" r="5.25" fill="#8b1a1a"/>
<circle cx="1207.5" cy="460" r="5.25" fill="#8b1a1a"/>
<circle cx="1243" cy="460" r="5.25" fill="#8b1a1a"/>
<circle cx="1044.5" cy="532" r="5.25" fill="#8b1a1a"/>
<circle cx="1166" cy="532" r="5.25" fill="#8b1a1a"/>
<circle cx="1133" cy="573" r="5.25" fill="#8b1a1a"/>
<circle cx="1207.5" cy="553" r="5.25" fill="#8b1a1a"/>
<circle cx="1207.5" cy="615" r="5.25" fill="#8b1a1a"/>
<circle cx="1018" cy="642" r="5.25" fill="#8b1a1a"/>
<circle cx="1032.5" cy="685.5" r="5.25" fill="#8b1a1a"/>
<circle cx="1123" cy="717" r="5.25" fill="#8b1a1a"/>
<circle cx="1155" cy="717" r="5.25" fill="#8b1a1a"/>
<circle cx="1059.3" cy="779" r="5.25" fill="#8b1a1a"/>
<circle cx="1123" cy="779" r="5.25" fill="#8b1a1a"/>
<circle cx="804" cy="563.7" r="5.25" fill="#8b1a1a"/>
<circle cx="852" cy="563.7" r="5.25" fill="#8b1a1a"/>
<circle cx="912.5" cy="563.7" r="5.25" fill="#8b1a1a"/>
<circle cx="852" cy="649.5" r="5.25" fill="#8b1a1a"/>
<circle cx="852" cy="719" r="5.25" fill="#8b1a1a"/>
<circle cx="912.5" cy="719" r="5.25" fill="#8b1a1a"/>
<circle cx="764" cy="719" r="5.25" fill="#8b1a1a"/>
<circle cx="785" cy="719" r="5.25" fill="#8b1a1a"/>
<circle cx="734.5" cy="781" r="5.25" fill="#8b1a1a"/>
<circle cx="763.5" cy="781" r="5.25" fill="#8b1a1a"/>
<text x="45" y="72.5" textLength="46" lengthAdjust="spacing" font-family='"Liberation Serif", serif' font-size="20" font-weight="bold" fill="#8b1a1a" stroke="#8b1a1a" stroke-width="0">300V</text>
<text x="199.5" y="596.5" textLength="56" lengthAdjust="spacing" font-family='"Liberation Serif", serif' font-size="21" font-weight="normal" fill="#8b1a1a" stroke="#8b1a1a" stroke-width="0.4">SYNC</text>
<text x="329.5" y="117.5" textLength="94.5" lengthAdjust="spacing" font-family='"Liberation Serif", serif' font-size="20.5" font-weight="normal" fill="#28287e" stroke="#28287e" stroke-width="0.55">STRG5643</text>
<text x="456" y="127" textLength="51.5" lengthAdjust="spacing" font-family='"Liberation Serif", serif' font-size="20.5" font-weight="normal" fill="#28287e" stroke="#28287e" stroke-width="0.55">IC901</text>
<text x="338.8" y="141.7" font-family='"Liberation Serif", serif' font-size="19.5" font-weight="normal" fill="#000" text-anchor="middle" transform="rotate(-90 338.8 141.7)">5</text>
<text x="362.8" y="141.7" font-family='"Liberation Serif", serif' font-size="19.5" font-weight="normal" fill="#000" text-anchor="middle" transform="rotate(-90 362.8 141.7)">4</text>
<text x="386.8" y="141.7" font-family='"Liberation Serif", serif' font-size="19.5" font-weight="normal" fill="#000" text-anchor="middle" transform="rotate(-90 386.8 141.7)">3</text>
<text x="410.8" y="141.7" font-family='"Liberation Serif", serif' font-size="19.5" font-weight="normal" fill="#000" text-anchor="middle" transform="rotate(-90 410.8 141.7)">2</text>
<text x="434.8" y="141.7" font-family='"Liberation Serif", serif' font-size="19.5" font-weight="normal" fill="#000" text-anchor="middle" transform="rotate(-90 434.8 141.7)">1</text>
<text x="622.5" y="54" textLength="10" lengthAdjust="spacing" font-family='"Liberation Serif", serif' font-size="20" font-weight="normal" fill="#2a2f8c" stroke="#2a2f8c" stroke-width="0.55">7</text>
<text x="977" y="220" textLength="35" lengthAdjust="spacing" font-family='"Liberation Serif", serif' font-size="20" font-weight="normal" fill="#8b1a1a" stroke="#8b1a1a" stroke-width="0.4">6V3</text>
<text x="1167" y="337.5" textLength="38" lengthAdjust="spacing" font-family='"Liberation Serif", serif' font-size="20.5" font-weight="normal" fill="#8b1a1a" stroke="#8b1a1a" stroke-width="0.55">RST</text>
<text x="1248" y="275" textLength="37.5" lengthAdjust="spacing" font-family='"Liberation Serif", serif' font-size="20" font-weight="normal" fill="#8b1a1a" stroke="#8b1a1a" stroke-width="0.4">+5V</text>
<text x="1260.5" y="430" textLength="47.5" lengthAdjust="spacing" font-family='"Liberation Serif", serif' font-size="20" font-weight="normal" fill="#8b1a1a" stroke="#8b1a1a" stroke-width="0.4">+12V</text>
<text x="971" y="569.5" textLength="25" lengthAdjust="spacing" font-family='"Liberation Serif", serif' font-size="20" font-weight="bold" fill="#8b1a1a" stroke="#8b1a1a" stroke-width="0">HS</text>
<text x="965" y="725.5" textLength="27" lengthAdjust="spacing" font-family='"Liberation Serif", serif' font-size="20" font-weight="bold" fill="#8b1a1a" stroke="#8b1a1a" stroke-width="0">VS</text>
<text x="54.5" y="99" textLength="36.5" lengthAdjust="spacing" font-family='"Liberation Serif", serif' font-size="16.5" font-weight="normal" fill="#33308a" stroke="#33308a" stroke-width="0.3">R946</text>
<text x="165" y="111.3" textLength="46.3" lengthAdjust="spacing" font-family='"Liberation Serif", serif' font-size="16.5" font-weight="normal" fill="#33308a" stroke="#33308a" stroke-width="0.3">ZD912</text>
<text x="264.5" y="58" textLength="35.5" lengthAdjust="spacing" font-family='"Liberation Serif", serif' font-size="16.5" font-weight="normal" fill="#33308a" stroke="#33308a" stroke-width="0.3">C907</text>
<text x="106" y="149" textLength="37.3" lengthAdjust="spacing" font-family='"Liberation Serif", serif' font-size="16.5" font-weight="normal" fill="#33308a" stroke="#33308a" stroke-width="0.3">Q923</text>
<text x="26.3" y="168.3" textLength="36.2" lengthAdjust="spacing" font-family='"Liberation Serif", serif' font-size="16.5" font-weight="normal" fill="#33308a" stroke="#33308a" stroke-width="0.3">R978</text>
<text x="158" y="200" textLength="36.7" lengthAdjust="spacing" font-family='"Liberation Serif", serif' font-size="16.5" font-weight="normal" fill="#33308a" stroke="#33308a" stroke-width="0.3">R928</text>
<text x="55" y="260" textLength="36" lengthAdjust="spacing" font-family='"Liberation Serif", serif' font-size="16.5" font-weight="normal" fill="#33308a" stroke="#33308a" stroke-width="0.3">R932</text>
<text x="158" y="257.5" textLength="36.5" lengthAdjust="spacing" font-family='"Liberation Serif", serif' font-size="16.5" font-weight="normal" fill="#33308a" stroke="#33308a" stroke-width="0.3">R923</text>
<text x="187.5" y="227" textLength="47.5" lengthAdjust="spacing" font-family='"Liberation Serif", serif' font-size="16.5" font-weight="normal" fill="#33308a" stroke="#33308a" stroke-width="0.3">ZD939</text>
<text x="252.5" y="227" textLength="33.5" lengthAdjust="spacing" font-family='"Liberation Serif", serif' font-size="16.5" font-weight="normal" fill="#33308a" stroke="#33308a" stroke-width="0.3">C921</text>
<text x="105.5" y="295" textLength="37.5" lengthAdjust="spacing" font-family='"Liberation Serif", serif' font-size="16.5" font-weight="normal" fill="#33308a" stroke="#33308a" stroke-width="0.3">D906</text>
<text x="155.5" y="292.5" textLength="38.5" lengthAdjust="spacing" font-family='"Liberation Serif", serif' font-size="16.5" font-weight="normal" fill="#33308a" stroke="#33308a" stroke-width="0.3">D905</text>
<text x="201" y="295" textLength="36.5" lengthAdjust="spacing" font-family='"Liberation Serif", serif' font-size="16.5" font-weight="normal" fill="#33308a" stroke="#33308a" stroke-width="0.3">R913</text>
<text x="17" y="335" textLength="47" lengthAdjust="spacing" font-family='"Liberation Serif", serif' font-size="16.5" font-weight="normal" fill="#33308a" stroke="#33308a" stroke-width="0.3">ZD901</text>
<text x="50" y="399" textLength="42" lengthAdjust="spacing" font-family='"Liberation Serif", serif' font-size="16.5" font-weight="normal" fill="#33308a" stroke="#33308a" stroke-width="0.3">LED2</text>
<text x="260" y="351" textLength="36.5" lengthAdjust="spacing" font-family='"Liberation Serif", serif' font-size="16.5" font-weight="normal" fill="#33308a" stroke="#33308a" stroke-width="0.3">Q915</text>
<text x="302.5" y="345" textLength="36.5" lengthAdjust="spacing" font-family='"Liberation Serif", serif' font-size="16.5" font-weight="normal" fill="#33308a" stroke="#33308a" stroke-width="0.3">R937</text>
<text x="289" y="393" textLength="36" lengthAdjust="spacing" font-family='"Liberation Serif", serif' font-size="16.5" font-weight="normal" fill="#33308a" stroke="#33308a" stroke-width="0.3">Q914</text>
<text x="275" y="577.5" textLength="36" lengthAdjust="spacing" font-family='"Liberation Serif", serif' font-size="16.5" font-weight="normal" fill="#33308a" stroke="#33308a" stroke-width="0.3">R914</text>
<text x="499" y="226" textLength="36.5" lengthAdjust="spacing" font-family='"Liberation Serif", serif' font-size="16.5" font-weight="normal" fill="#33308a" stroke="#33308a" stroke-width="0.3">R936</text>
<text x="528" y="262.5" textLength="36" lengthAdjust="spacing" font-family='"Liberation Serif", serif' font-size="16.5" font-weight="normal" fill="#33308a" stroke="#33308a" stroke-width="0.3">R927</text>
<text x="596" y="264.5" textLength="37" lengthAdjust="spacing" font-family='"Liberation Serif", serif' font-size="16.5" font-weight="normal" fill="#33308a" stroke="#33308a" stroke-width="0.3">D910</text>
<text x="598" y="312" textLength="36" lengthAdjust="spacing" font-family='"Liberation Serif", serif' font-size="16.5" font-weight="normal" fill="#33308a" stroke="#33308a" stroke-width="0.3">C915</text>
<text x="490" y="330.5" textLength="36" lengthAdjust="spacing" font-family='"Liberation Serif", serif' font-size="16.5" font-weight="normal" fill="#33308a" stroke="#33308a" stroke-width="0.3">C914</text>
<text x="442.5" y="352" textLength="35.5" lengthAdjust="spacing" font-family='"Liberation Serif", serif' font-size="16.5" font-weight="normal" fill="#33308a" stroke="#33308a" stroke-width="0.3">C916</text>
<text x="577.5" y="362" textLength="35.5" lengthAdjust="spacing" font-family='"Liberation Serif", serif' font-size="16.5" font-weight="normal" fill="#33308a" stroke="#33308a" stroke-width="0.3">R931</text>
<text x="535" y="369.5" textLength="36" lengthAdjust="spacing" font-family='"Liberation Serif", serif' font-size="16.5" font-weight="normal" fill="#33308a" stroke="#33308a" stroke-width="0.3">D911</text>
<text x="351" y="402.5" textLength="36" lengthAdjust="spacing" font-family='"Liberation Serif", serif' font-size="16.5" font-weight="normal" fill="#33308a" stroke="#33308a" stroke-width="0.3">R939</text>
<text x="336" y="436" textLength="38" lengthAdjust="spacing" font-family='"Liberation Serif", serif' font-size="16.5" font-weight="normal" fill="#33308a" stroke="#33308a" stroke-width="0.3">D913</text>
<text x="435" y="393" textLength="36" lengthAdjust="spacing" font-family='"Liberation Serif", serif' font-size="16.5" font-weight="normal" fill="#33308a" stroke="#33308a" stroke-width="0.3">R933</text>
<text x="435" y="441" textLength="35" lengthAdjust="spacing" font-family='"Liberation Serif", serif' font-size="16.5" font-weight="normal" fill="#33308a" stroke="#33308a" stroke-width="0.3">C911</text>
<text x="341" y="477.5" textLength="38" lengthAdjust="spacing" font-family='"Liberation Serif", serif' font-size="16.5" font-weight="normal" fill="#33308a" stroke="#33308a" stroke-width="0.3">D916</text>
<text x="338" y="513" textLength="36.5" lengthAdjust="spacing" font-family='"Liberation Serif", serif' font-size="16.5" font-weight="normal" fill="#33308a" stroke="#33308a" stroke-width="0.3">R929</text>
<text x="440" y="513" textLength="36" lengthAdjust="spacing" font-family='"Liberation Serif", serif' font-size="16.5" font-weight="normal" fill="#33308a" stroke="#33308a" stroke-width="0.3">C923</text>
<text x="540" y="465" textLength="36" lengthAdjust="spacing" font-family='"Liberation Serif", serif' font-size="16.5" font-weight="normal" fill="#33308a" stroke="#33308a" stroke-width="0.3">R916</text>
<text x="424" y="556" textLength="38" lengthAdjust="spacing" font-family='"Liberation Serif", serif' font-size="16.5" font-weight="normal" fill="#33308a" stroke="#33308a" stroke-width="0.3">D917</text>
<text x="476" y="587.5" textLength="35" lengthAdjust="spacing" font-family='"Liberation Serif", serif' font-size="16.5" font-weight="normal" fill="#33308a" stroke="#33308a" stroke-width="0.3">C912</text>
<text x="754" y="51" textLength="37" lengthAdjust="spacing" font-family='"Liberation Serif", serif' font-size="16.5" font-weight="normal" fill="#33308a" stroke="#33308a" stroke-width="0.3">D918</text>
<text x="766" y="109" textLength="36" lengthAdjust="spacing" font-family='"Liberation Serif", serif' font-size="16.5" font-weight="normal" fill="#33308a" stroke="#33308a" stroke-width="0.3">C929</text>
<text x="759" y="159.5" textLength="37" lengthAdjust="spacing" font-family='"Liberation Serif", serif' font-size="16.5" font-weight="normal" fill="#33308a" stroke="#33308a" stroke-width="0.3">D919</text>
<text x="752" y="209" textLength="34" lengthAdjust="spacing" font-family='"Liberation Serif", serif' font-size="16.5" font-weight="normal" fill="#33308a" stroke="#33308a" stroke-width="0.3">C931</text>
<text x="883" y="55.5" textLength="36" lengthAdjust="spacing" font-family='"Liberation Serif", serif' font-size="16.5" font-weight="normal" fill="#33308a" stroke="#33308a" stroke-width="0.3">L903</text>
<text x="902.5" y="94.5" textLength="37.5" lengthAdjust="spacing" font-family='"Liberation Serif", serif' font-size="16.5" font-weight="normal" fill="#33308a" stroke="#33308a" stroke-width="0.3">D704</text>
<text x="914.5" y="154" textLength="35.5" lengthAdjust="spacing" font-family='"Liberation Serif", serif' font-size="16.5" font-weight="normal" fill="#33308a" stroke="#33308a" stroke-width="0.3">L906</text>
<text x="1036" y="157" textLength="38.5" lengthAdjust="spacing" font-family='"Liberation Serif", serif' font-size="16.5" font-weight="normal" fill="#33308a" stroke="#33308a" stroke-width="0.3">D925</text>
<text x="754" y="257.5" textLength="37" lengthAdjust="spacing" font-family='"Liberation Serif", serif' font-size="16.5" font-weight="normal" fill="#33308a" stroke="#33308a" stroke-width="0.3">D923</text>
<text x="769" y="309" textLength="35" lengthAdjust="spacing" font-family='"Liberation Serif", serif' font-size="16.5" font-weight="normal" fill="#33308a" stroke="#33308a" stroke-width="0.3">C939</text>
<text x="759" y="349.5" textLength="37" lengthAdjust="spacing" font-family='"Liberation Serif", serif' font-size="16.5" font-weight="normal" fill="#33308a" stroke="#33308a" stroke-width="0.3">D930</text>
<text x="770.5" y="398" textLength="35" lengthAdjust="spacing" font-family='"Liberation Serif", serif' font-size="16.5" font-weight="normal" fill="#33308a" stroke="#33308a" stroke-width="0.3">C942</text>
<text x="874" y="410" textLength="36" lengthAdjust="spacing" font-family='"Liberation Serif", serif' font-size="16.5" font-weight="normal" fill="#33308a" stroke="#33308a" stroke-width="0.3">R903</text>
<text x="759" y="446" textLength="37" lengthAdjust="spacing" font-family='"Liberation Serif", serif' font-size="16.5" font-weight="normal" fill="#33308a" stroke="#33308a" stroke-width="0.3">D922</text>
<text x="769" y="499" textLength="35" lengthAdjust="spacing" font-family='"Liberation Serif", serif' font-size="16.5" font-weight="normal" fill="#33308a" stroke="#33308a" stroke-width="0.3">C936</text>
<text x="874.5" y="264.5" textLength="36.5" lengthAdjust="spacing" font-family='"Liberation Serif", serif' font-size="16.5" font-weight="normal" fill="#33308a" stroke="#33308a" stroke-width="0.3">Q910</text>
<text x="953" y="299.5" textLength="36" lengthAdjust="spacing" font-family='"Liberation Serif", serif' font-size="16.5" font-weight="normal" fill="#33308a" stroke="#33308a" stroke-width="0.3">C104</text>
<text x="946" y="328" textLength="36" lengthAdjust="spacing" font-family='"Liberation Serif", serif' font-size="16.5" font-weight="normal" fill="#33308a" stroke="#33308a" stroke-width="0.3">C909</text>
<text x="910" y="349.5" textLength="48" lengthAdjust="spacing" font-family='"Liberation Serif", serif' font-size="16.5" font-weight="normal" fill="#33308a" stroke="#33308a" stroke-width="0.3">ZD902</text>
<text x="907.5" y="366" textLength="29.5" lengthAdjust="spacing" font-family='"Liberation Serif", serif' font-size="16.5" font-weight="normal" fill="#33308a" stroke="#33308a" stroke-width="0.3">5V6</text>
<text x="1106" y="260" textLength="37" lengthAdjust="spacing" font-family='"Liberation Serif", serif' font-size="16.5" font-weight="normal" fill="#33308a" stroke="#33308a" stroke-width="0.3">D131</text>
<text x="1027" y="304" textLength="37.5" lengthAdjust="spacing" font-family='"Liberation Serif", serif' font-size="16.5" font-weight="normal" fill="#33308a" stroke="#33308a" stroke-width="0.3">D104</text>
<text x="1109" y="299" textLength="36" lengthAdjust="spacing" font-family='"Liberation Serif", serif' font-size="16.5" font-weight="normal" fill="#33308a" stroke="#33308a" stroke-width="0.3">R112</text>
<text x="1030" y="337.5" textLength="37" lengthAdjust="spacing" font-family='"Liberation Serif", serif' font-size="16.5" font-weight="normal" fill="#33308a" stroke="#33308a" stroke-width="0.3">Q977</text>
<text x="975.5" y="371" textLength="35.5" lengthAdjust="spacing" font-family='"Liberation Serif", serif' font-size="16.5" font-weight="normal" fill="#33308a" stroke="#33308a" stroke-width="0.3">C977</text>
<text x="1008" y="388" textLength="37.5" lengthAdjust="spacing" font-family='"Liberation Serif", serif' font-size="16.5" font-weight="normal" fill="#33308a" stroke="#33308a" stroke-width="0.3">D977</text>
<text x="1117" y="364" textLength="35" lengthAdjust="spacing" font-family='"Liberation Serif", serif' font-size="16.5" font-weight="normal" fill="#33308a" stroke="#33308a" stroke-width="0.3">C106</text>
<text x="1199" y="297" textLength="35" lengthAdjust="spacing" font-family='"Liberation Serif", serif' font-size="16.5" font-weight="normal" fill="#33308a" stroke="#33308a" stroke-width="0.3">C105</text>
<text x="1053.5" y="446" textLength="35.5" lengthAdjust="spacing" font-family='"Liberation Serif", serif' font-size="16.5" font-weight="normal" fill="#33308a" stroke="#33308a" stroke-width="0.3">R921</text>
<text x="1049" y="494" textLength="36" lengthAdjust="spacing" font-family='"Liberation Serif", serif' font-size="16.5" font-weight="normal" fill="#33308a" stroke="#33308a" stroke-width="0.3">R979</text>
<text x="1082.5" y="505.5" textLength="36.5" lengthAdjust="spacing" font-family='"Liberation Serif", serif' font-size="16.5" font-weight="normal" fill="#33308a" stroke="#33308a" stroke-width="0.3">R933</text>
<text x="1168" y="505.5" textLength="36" lengthAdjust="spacing" font-family='"Liberation Serif", serif' font-size="16.5" font-weight="normal" fill="#33308a" stroke="#33308a" stroke-width="0.3">R934</text>
<text x="1148" y="452.5" textLength="37.5" lengthAdjust="spacing" font-family='"Liberation Serif", serif' font-size="16.5" font-weight="normal" fill="#33308a" stroke="#33308a" stroke-width="0.3">Q918</text>
<text x="1136" y="559.5" textLength="36.5" lengthAdjust="spacing" font-family='"Liberation Serif", serif' font-size="16.5" font-weight="normal" fill="#33308a" stroke="#33308a" stroke-width="0.3">Q931</text>
<text x="1214" y="582.5" textLength="36.5" lengthAdjust="spacing" font-family='"Liberation Serif", serif' font-size="16.5" font-weight="normal" fill="#33308a" stroke="#33308a" stroke-width="0.3">R950</text>
<text x="1255.5" y="505.5" textLength="36.5" lengthAdjust="spacing" font-family='"Liberation Serif", serif' font-size="16.5" font-weight="normal" fill="#33308a" stroke="#33308a" stroke-width="0.3">C937</text>
<text x="1059" y="558" textLength="36" lengthAdjust="spacing" font-family='"Liberation Serif", serif' font-size="16.5" font-weight="normal" fill="#33308a" stroke="#33308a" stroke-width="0.3">C958</text>
<text x="967.5" y="489" textLength="36.5" lengthAdjust="spacing" font-family='"Liberation Serif", serif' font-size="16.5" font-weight="normal" fill="#33308a" stroke="#33308a" stroke-width="0.3">R426</text>
<text x="969.5" y="546" textLength="36.5" lengthAdjust="spacing" font-family='"Liberation Serif", serif' font-size="16.5" font-weight="normal" fill="#33308a" stroke="#33308a" stroke-width="0.3">R496</text>
<text x="930" y="592.5" textLength="34" lengthAdjust="spacing" font-family='"Liberation Serif", serif' font-size="16.5" font-weight="normal" fill="#33308a" stroke="#33308a" stroke-width="0.3">C791</text>
<text x="1074" y="602" textLength="47" lengthAdjust="spacing" font-family='"Liberation Serif", serif' font-size="16.5" font-weight="normal" fill="#33308a" stroke="#33308a" stroke-width="0.3">ZD905</text>
<text x="1097.5" y="662" textLength="35" lengthAdjust="spacing" font-family='"Liberation Serif", serif' font-size="16.5" font-weight="normal" fill="#33308a" stroke="#33308a" stroke-width="0.3">C414</text>
<text x="1092.5" y="707.5" textLength="37.5" lengthAdjust="spacing" font-family='"Liberation Serif", serif' font-size="16.5" font-weight="normal" fill="#33308a" stroke="#33308a" stroke-width="0.3">Q402</text>
<text x="1164" y="695" textLength="36.5" lengthAdjust="spacing" font-family='"Liberation Serif", serif' font-size="16.5" font-weight="normal" fill="#33308a" stroke="#33308a" stroke-width="0.3">C413</text>
<text x="1219" y="702.5" textLength="36.5" lengthAdjust="spacing" font-family='"Liberation Serif", serif' font-size="16.5" font-weight="normal" fill="#33308a" stroke="#33308a" stroke-width="0.3">R422</text>
<text x="1068" y="763" textLength="37" lengthAdjust="spacing" font-family='"Liberation Serif", serif' font-size="16.5" font-weight="normal" fill="#33308a" stroke="#33308a" stroke-width="0.3">R423</text>
<text x="1167" y="755.5" textLength="37" lengthAdjust="spacing" font-family='"Liberation Serif", serif' font-size="16.5" font-weight="normal" fill="#33308a" stroke="#33308a" stroke-width="0.3">D450</text>
<text x="975" y="767.5" textLength="47.5" lengthAdjust="spacing" font-family='"Liberation Serif", serif' font-size="16.5" font-weight="normal" fill="#33308a" stroke="#33308a" stroke-width="0.3">ZD400</text>
<text x="929" y="751" textLength="36" lengthAdjust="spacing" font-family='"Liberation Serif", serif' font-size="16.5" font-weight="normal" fill="#33308a" stroke="#33308a" stroke-width="0.3">C792</text>
<text x="881" y="779.5" textLength="37.5" lengthAdjust="spacing" font-family='"Liberation Serif", serif' font-size="16.5" font-weight="normal" fill="#33308a" stroke="#33308a" stroke-width="0.3">D928</text>
<text x="735" y="551" textLength="35.5" lengthAdjust="spacing" font-family='"Liberation Serif", serif' font-size="16.5" font-weight="normal" fill="#33308a" stroke="#33308a" stroke-width="0.3">R924</text>
<text x="790" y="554" textLength="36" lengthAdjust="spacing" font-family='"Liberation Serif", serif' font-size="16.5" font-weight="normal" fill="#33308a" stroke="#33308a" stroke-width="0.3">C956</text>
<text x="883" y="549.5" textLength="37" lengthAdjust="spacing" font-family='"Liberation Serif", serif' font-size="16.5" font-weight="normal" fill="#33308a" stroke="#33308a" stroke-width="0.3">D935</text>
<text x="809" y="607" textLength="36" lengthAdjust="spacing" font-family='"Liberation Serif", serif' font-size="16.5" font-weight="normal" fill="#33308a" stroke="#33308a" stroke-width="0.3">R975</text>
<text x="859" y="602.5" textLength="38" lengthAdjust="spacing" font-family='"Liberation Serif", serif' font-size="16.5" font-weight="normal" fill="#33308a" stroke="#33308a" stroke-width="0.3">D932</text>
<text x="806" y="645" textLength="38" lengthAdjust="spacing" font-family='"Liberation Serif", serif' font-size="16.5" font-weight="normal" fill="#33308a" stroke="#33308a" stroke-width="0.3">D934</text>
<text x="859" y="673" textLength="36.5" lengthAdjust="spacing" font-family='"Liberation Serif", serif' font-size="16.5" font-weight="normal" fill="#33308a" stroke="#33308a" stroke-width="0.3">R925</text>
<text x="797" y="707.5" textLength="36" lengthAdjust="spacing" font-family='"Liberation Serif", serif' font-size="16.5" font-weight="normal" fill="#33308a" stroke="#33308a" stroke-width="0.3">R926</text>
<text x="864" y="710" textLength="37" lengthAdjust="spacing" font-family='"Liberation Serif", serif' font-size="16.5" font-weight="normal" fill="#33308a" stroke="#33308a" stroke-width="0.3">D937</text>
<text x="697" y="724" textLength="37" lengthAdjust="spacing" font-family='"Liberation Serif", serif' font-size="16.5" font-weight="normal" fill="#33308a" stroke="#33308a" stroke-width="0.3">Q916</text>
<text x="814.5" y="763" textLength="35.5" lengthAdjust="spacing" font-family='"Liberation Serif", serif' font-size="16.5" font-weight="normal" fill="#33308a" stroke="#33308a" stroke-width="0.3">C935</text>
<text x="784.5" y="791" textLength="38" lengthAdjust="spacing" font-family='"Liberation Serif", serif' font-size="16.5" font-weight="normal" fill="#33308a" stroke="#33308a" stroke-width="0.3">D936</text>
<text x="737" y="818" textLength="37" lengthAdjust="spacing" font-family='"Liberation Serif", serif' font-size="16.5" font-weight="normal" fill="#33308a" stroke="#33308a" stroke-width="0.3">R976</text>
<text x="532.5" y="277.5" textLength="25" lengthAdjust="spacing" font-family='"Liberation Serif", serif' font-size="14.5" font-weight="normal" fill="#33308a" stroke="#33308a" stroke-width="0.3">33K</text>
<text x="22.5" y="348" textLength="32" lengthAdjust="spacingAndGlyphs" font-family="&quot;DejaVu Sans&quot;, &quot;Liberation Sans&quot;, sans-serif" font-size="13.5" font-weight="bold" fill="#2a2f8c">24V</text>
<text x="87.5" y="499.5" textLength="29" lengthAdjust="spacing" font-family='"Liberation Serif", serif' font-size="20" font-weight="normal" fill="#33308a" stroke="#33308a" stroke-width="0.3">ON</text>
<text x="85" y="526.3" textLength="38" lengthAdjust="spacing" font-family='"Liberation Serif", serif' font-size="20" font-weight="normal" fill="#33308a" stroke="#33308a" stroke-width="0.3">OFF</text>
<text x="644.5" y="229.5" textLength="8" lengthAdjust="spacing" font-family='"Liberation Serif", serif' font-size="20" font-weight="normal" fill="#2a2f8c" stroke="#2a2f8c" stroke-width="0.55">5</text>
<text x="645.5" y="333" textLength="8.5" lengthAdjust="spacing" font-family='"Liberation Serif", serif' font-size="20" font-weight="normal" fill="#2a2f8c" stroke="#2a2f8c" stroke-width="0.55">3</text>
<text x="649" y="380" textLength="7.5" lengthAdjust="spacing" font-family='"Liberation Serif", serif' font-size="20" font-weight="normal" fill="#2a2f8c" stroke="#2a2f8c" stroke-width="0.55">1</text>
<text x="718" y="54" textLength="18" lengthAdjust="spacing" font-family='"Liberation Serif", serif' font-size="20" font-weight="normal" fill="#2a2f8c" stroke="#2a2f8c" stroke-width="0.55">11</text>
<text x="718" y="162.5" textLength="19.5" lengthAdjust="spacing" font-family='"Liberation Serif", serif' font-size="20" font-weight="normal" fill="#2a2f8c" stroke="#2a2f8c" stroke-width="0.55">12</text>
<text x="712" y="259" textLength="18.5" lengthAdjust="spacing" font-family='"Liberation Serif", serif' font-size="20" font-weight="normal" fill="#2a2f8c" stroke="#2a2f8c" stroke-width="0.55">14</text>
<text x="718" y="356" textLength="19" lengthAdjust="spacing" font-family='"Liberation Serif", serif' font-size="20" font-weight="normal" fill="#2a2f8c" stroke="#2a2f8c" stroke-width="0.55">15</text>
<text x="720.5" y="454" textLength="20.5" lengthAdjust="spacing" font-family='"Liberation Serif", serif' font-size="20" font-weight="normal" fill="#2a2f8c" stroke="#2a2f8c" stroke-width="0.55">16</text>
<text x="912.5" y="634.5" textLength="46.5" lengthAdjust="spacing" font-family='"Liberation Serif", serif' font-size="20" font-weight="bold" fill="#2a2f8c" stroke="#2a2f8c" stroke-width="0">D924</text>
<text x="658" y="630" textLength="52.5" lengthAdjust="spacing" font-family='"Liberation Serif", serif' font-size="20.5" font-weight="normal" fill="#28287e" stroke="#28287e" stroke-width="0.55">IC902</text>
<text x="242.5" y="405" textLength="36" lengthAdjust="spacing" font-family='"Liberation Serif", serif' font-size="16.5" font-weight="normal" fill="#33308a" stroke="#33308a" stroke-width="0.3" transform="rotate(-90 242.5 405)">R944</text>
<text x="250" y="472.5" textLength="35" lengthAdjust="spacing" font-family='"Liberation Serif", serif' font-size="16.5" font-weight="normal" fill="#33308a" stroke="#33308a" stroke-width="0.3" transform="rotate(-90 250 472.5)">R938</text>
<text x="284" y="469" textLength="36.5" lengthAdjust="spacing" font-family='"Liberation Serif", serif' font-size="16.5" font-weight="normal" fill="#33308a" stroke="#33308a" stroke-width="0.3" transform="rotate(-90 284 469)">R915</text>
</svg>
</body>
</html>
